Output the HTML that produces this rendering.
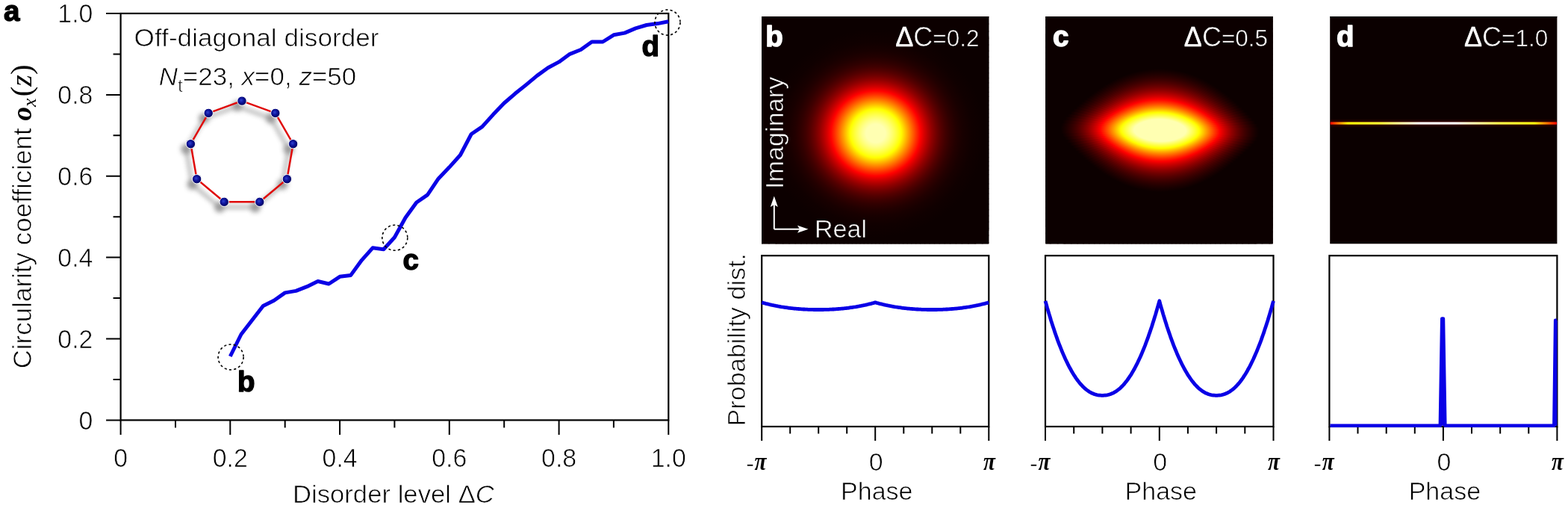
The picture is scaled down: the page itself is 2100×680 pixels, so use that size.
<!DOCTYPE html>
<html><head><meta charset="utf-8"><title>Circularity coefficient vs disorder</title>
<style>
html,body{margin:0;padding:0;background:#fff;overflow:hidden}
svg{display:block}
.t{font-family:'Liberation Sans',Arial,sans-serif;font-size:34px;fill:#000;stroke:#fff;stroke-width:0.7px}
.tk{font-size:35px}
.tw{font-family:'Liberation Sans',Arial,sans-serif;font-size:33px;fill:#fff;stroke:#0b0000;stroke-width:0.6px}
.bl{font-family:'Liberation Sans',Arial,sans-serif;font-size:38.5px;font-weight:bold;fill:#000;stroke:#000;stroke-width:1.4px;stroke-linejoin:round}
.bw{font-family:'Liberation Sans',Arial,sans-serif;font-size:38.5px;font-weight:bold;fill:#fff;stroke:#fff;stroke-width:1.4px;stroke-linejoin:round}
.pi{font-family:'Liberation Serif',serif;font-style:italic;font-weight:bold;font-size:34px;fill:#000}
</style></head><body>
<svg width="2100" height="680" viewBox="0 0 2100 680">
<defs>
<filter id="shd" x="-30%" y="-30%" width="160%" height="160%"><feGaussianBlur stdDeviation="3.2"/></filter>
<radialGradient id="ball" cx="0.45" cy="0.45" r="0.6" fx="0.42" fy="0.42"><stop offset="0" stop-color="#3042d0"/><stop offset="0.45" stop-color="#0c1298"/><stop offset="1" stop-color="#000050"/></radialGradient>
<clipPath id="clipB"><rect x="1020.0" y="22.0" width="304.2" height="304.3"/></clipPath>
<radialGradient id="Bq0" gradientUnits="userSpaceOnUse" cx="1172.8" cy="178.5" r="200.0"><stop offset="0.0645" stop-color="#ffffb2"/><stop offset="0.0924" stop-color="#ffff8f"/><stop offset="0.1146" stop-color="#ffff6c"/><stop offset="0.1342" stop-color="#ffff49"/><stop offset="0.1522" stop-color="#ffff26"/><stop offset="0.1707" stop-color="#ffff00"/><stop offset="0.1924" stop-color="#ffd300"/><stop offset="0.2184" stop-color="#ff9d00"/><stop offset="0.2448" stop-color="#ff6800"/><stop offset="0.2723" stop-color="#ff3200"/><stop offset="0.3001" stop-color="#ff0000"/><stop offset="0.3268" stop-color="#d30000"/><stop offset="0.3498" stop-color="#b20000"/><stop offset="0.3760" stop-color="#900000"/><stop offset="0.4074" stop-color="#6f0000"/><stop offset="0.4387" stop-color="#540000"/><stop offset="0.4686" stop-color="#400000"/><stop offset="0.5001" stop-color="#300000"/><stop offset="0.5387" stop-color="#220000"/><stop offset="0.5814" stop-color="#180000"/><stop offset="0.6453" stop-color="#100000"/><stop offset="0.7315" stop-color="#0c0000"/></radialGradient>
<radialGradient id="Bq1" gradientUnits="userSpaceOnUse" cx="1172.8" cy="178.5" r="200.0"><stop offset="0.0645" stop-color="#ffffb2"/><stop offset="0.0924" stop-color="#ffff8f"/><stop offset="0.1146" stop-color="#ffff6c"/><stop offset="0.1342" stop-color="#ffff49"/><stop offset="0.1522" stop-color="#ffff26"/><stop offset="0.1707" stop-color="#ffff00"/><stop offset="0.1924" stop-color="#ffd300"/><stop offset="0.2184" stop-color="#ff9d00"/><stop offset="0.2447" stop-color="#ff6800"/><stop offset="0.2723" stop-color="#ff3200"/><stop offset="0.3001" stop-color="#ff0000"/><stop offset="0.3268" stop-color="#d30000"/><stop offset="0.3498" stop-color="#b20000"/><stop offset="0.3760" stop-color="#900000"/><stop offset="0.4074" stop-color="#6f0000"/><stop offset="0.4386" stop-color="#540000"/><stop offset="0.4686" stop-color="#400000"/><stop offset="0.5001" stop-color="#300000"/><stop offset="0.5387" stop-color="#220000"/><stop offset="0.5814" stop-color="#180000"/><stop offset="0.6453" stop-color="#100000"/><stop offset="0.7314" stop-color="#0c0000"/></radialGradient>
<radialGradient id="Bq2" gradientUnits="userSpaceOnUse" cx="1172.8" cy="178.5" r="200.0"><stop offset="0.0645" stop-color="#ffffb2"/><stop offset="0.0923" stop-color="#ffff8f"/><stop offset="0.1146" stop-color="#ffff6c"/><stop offset="0.1342" stop-color="#ffff49"/><stop offset="0.1522" stop-color="#ffff26"/><stop offset="0.1706" stop-color="#ffff00"/><stop offset="0.1924" stop-color="#ffd300"/><stop offset="0.2184" stop-color="#ff9d00"/><stop offset="0.2447" stop-color="#ff6800"/><stop offset="0.2722" stop-color="#ff3200"/><stop offset="0.3001" stop-color="#ff0000"/><stop offset="0.3267" stop-color="#d30000"/><stop offset="0.3497" stop-color="#b20000"/><stop offset="0.3759" stop-color="#900000"/><stop offset="0.4073" stop-color="#6f0000"/><stop offset="0.4386" stop-color="#540000"/><stop offset="0.4685" stop-color="#400000"/><stop offset="0.5000" stop-color="#300000"/><stop offset="0.5386" stop-color="#220000"/><stop offset="0.5813" stop-color="#180000"/><stop offset="0.6451" stop-color="#100000"/><stop offset="0.7313" stop-color="#0c0000"/></radialGradient>
<radialGradient id="Bq3" gradientUnits="userSpaceOnUse" cx="1172.8" cy="178.5" r="200.0"><stop offset="0.0644" stop-color="#ffffb2"/><stop offset="0.0923" stop-color="#ffff8f"/><stop offset="0.1146" stop-color="#ffff6c"/><stop offset="0.1341" stop-color="#ffff49"/><stop offset="0.1522" stop-color="#ffff26"/><stop offset="0.1706" stop-color="#ffff00"/><stop offset="0.1923" stop-color="#ffd300"/><stop offset="0.2183" stop-color="#ff9d00"/><stop offset="0.2446" stop-color="#ff6800"/><stop offset="0.2721" stop-color="#ff3200"/><stop offset="0.3000" stop-color="#ff0000"/><stop offset="0.3266" stop-color="#d30000"/><stop offset="0.3496" stop-color="#b20000"/><stop offset="0.3758" stop-color="#900000"/><stop offset="0.4071" stop-color="#6f0000"/><stop offset="0.4384" stop-color="#540000"/><stop offset="0.4684" stop-color="#400000"/><stop offset="0.4998" stop-color="#300000"/><stop offset="0.5384" stop-color="#220000"/><stop offset="0.5811" stop-color="#180000"/><stop offset="0.6449" stop-color="#100000"/><stop offset="0.7310" stop-color="#0c0000"/></radialGradient>
<radialGradient id="Bq4" gradientUnits="userSpaceOnUse" cx="1172.8" cy="178.5" r="200.0"><stop offset="0.0644" stop-color="#ffffb2"/><stop offset="0.0923" stop-color="#ffff8f"/><stop offset="0.1145" stop-color="#ffff6c"/><stop offset="0.1341" stop-color="#ffff49"/><stop offset="0.1521" stop-color="#ffff26"/><stop offset="0.1705" stop-color="#ffff00"/><stop offset="0.1922" stop-color="#ffd300"/><stop offset="0.2182" stop-color="#ff9d00"/><stop offset="0.2445" stop-color="#ff6800"/><stop offset="0.2720" stop-color="#ff3200"/><stop offset="0.2998" stop-color="#ff0000"/><stop offset="0.3265" stop-color="#d30000"/><stop offset="0.3495" stop-color="#b20000"/><stop offset="0.3757" stop-color="#900000"/><stop offset="0.4070" stop-color="#6f0000"/><stop offset="0.4382" stop-color="#540000"/><stop offset="0.4681" stop-color="#400000"/><stop offset="0.4996" stop-color="#300000"/><stop offset="0.5382" stop-color="#220000"/><stop offset="0.5808" stop-color="#180000"/><stop offset="0.6446" stop-color="#100000"/><stop offset="0.7307" stop-color="#0c0000"/></radialGradient>
<radialGradient id="Bq5" gradientUnits="userSpaceOnUse" cx="1172.8" cy="178.5" r="200.0"><stop offset="0.0644" stop-color="#ffffb2"/><stop offset="0.0922" stop-color="#ffff8f"/><stop offset="0.1144" stop-color="#ffff6c"/><stop offset="0.1340" stop-color="#ffff49"/><stop offset="0.1520" stop-color="#ffff26"/><stop offset="0.1704" stop-color="#ffff00"/><stop offset="0.1921" stop-color="#ffd300"/><stop offset="0.2181" stop-color="#ff9d00"/><stop offset="0.2444" stop-color="#ff6800"/><stop offset="0.2719" stop-color="#ff3200"/><stop offset="0.2997" stop-color="#ff0000"/><stop offset="0.3263" stop-color="#d30000"/><stop offset="0.3492" stop-color="#b20000"/><stop offset="0.3754" stop-color="#900000"/><stop offset="0.4067" stop-color="#6f0000"/><stop offset="0.4380" stop-color="#540000"/><stop offset="0.4679" stop-color="#400000"/><stop offset="0.4993" stop-color="#300000"/><stop offset="0.5378" stop-color="#220000"/><stop offset="0.5805" stop-color="#180000"/><stop offset="0.6442" stop-color="#100000"/><stop offset="0.7302" stop-color="#0c0000"/></radialGradient>
<radialGradient id="Bq6" gradientUnits="userSpaceOnUse" cx="1172.8" cy="178.5" r="200.0"><stop offset="0.0643" stop-color="#ffffb2"/><stop offset="0.0921" stop-color="#ffff8f"/><stop offset="0.1144" stop-color="#ffff6c"/><stop offset="0.1339" stop-color="#ffff49"/><stop offset="0.1519" stop-color="#ffff26"/><stop offset="0.1703" stop-color="#ffff00"/><stop offset="0.1920" stop-color="#ffd300"/><stop offset="0.2179" stop-color="#ff9d00"/><stop offset="0.2442" stop-color="#ff6800"/><stop offset="0.2717" stop-color="#ff3200"/><stop offset="0.2995" stop-color="#ff0000"/><stop offset="0.3261" stop-color="#d30000"/><stop offset="0.3490" stop-color="#b20000"/><stop offset="0.3752" stop-color="#900000"/><stop offset="0.4064" stop-color="#6f0000"/><stop offset="0.4376" stop-color="#540000"/><stop offset="0.4675" stop-color="#400000"/><stop offset="0.4989" stop-color="#300000"/><stop offset="0.5375" stop-color="#220000"/><stop offset="0.5800" stop-color="#180000"/><stop offset="0.6437" stop-color="#100000"/><stop offset="0.7297" stop-color="#0c0000"/></radialGradient>
<radialGradient id="Bq7" gradientUnits="userSpaceOnUse" cx="1172.8" cy="178.5" r="200.0"><stop offset="0.0643" stop-color="#ffffb2"/><stop offset="0.0921" stop-color="#ffff8f"/><stop offset="0.1143" stop-color="#ffff6c"/><stop offset="0.1338" stop-color="#ffff49"/><stop offset="0.1518" stop-color="#ffff26"/><stop offset="0.1702" stop-color="#ffff00"/><stop offset="0.1918" stop-color="#ffd300"/><stop offset="0.2177" stop-color="#ff9d00"/><stop offset="0.2440" stop-color="#ff6800"/><stop offset="0.2715" stop-color="#ff3200"/><stop offset="0.2992" stop-color="#ff0000"/><stop offset="0.3258" stop-color="#d30000"/><stop offset="0.3487" stop-color="#b20000"/><stop offset="0.3749" stop-color="#900000"/><stop offset="0.4061" stop-color="#6f0000"/><stop offset="0.4373" stop-color="#540000"/><stop offset="0.4671" stop-color="#400000"/><stop offset="0.4985" stop-color="#300000"/><stop offset="0.5370" stop-color="#220000"/><stop offset="0.5795" stop-color="#180000"/><stop offset="0.6432" stop-color="#100000"/><stop offset="0.7290" stop-color="#0c0000"/></radialGradient>
<radialGradient id="Bq8" gradientUnits="userSpaceOnUse" cx="1172.8" cy="178.5" r="200.0"><stop offset="0.0642" stop-color="#ffffb2"/><stop offset="0.0920" stop-color="#ffff8f"/><stop offset="0.1142" stop-color="#ffff6c"/><stop offset="0.1337" stop-color="#ffff49"/><stop offset="0.1516" stop-color="#ffff26"/><stop offset="0.1700" stop-color="#ffff00"/><stop offset="0.1917" stop-color="#ffd300"/><stop offset="0.2175" stop-color="#ff9d00"/><stop offset="0.2438" stop-color="#ff6800"/><stop offset="0.2712" stop-color="#ff3200"/><stop offset="0.2989" stop-color="#ff0000"/><stop offset="0.3255" stop-color="#d30000"/><stop offset="0.3484" stop-color="#b20000"/><stop offset="0.3745" stop-color="#900000"/><stop offset="0.4057" stop-color="#6f0000"/><stop offset="0.4369" stop-color="#540000"/><stop offset="0.4667" stop-color="#400000"/><stop offset="0.4980" stop-color="#300000"/><stop offset="0.5365" stop-color="#220000"/><stop offset="0.5790" stop-color="#180000"/><stop offset="0.6425" stop-color="#100000"/><stop offset="0.7283" stop-color="#0c0000"/></radialGradient>
<radialGradient id="Bq9" gradientUnits="userSpaceOnUse" cx="1172.8" cy="178.5" r="200.0"><stop offset="0.0642" stop-color="#ffffb2"/><stop offset="0.0919" stop-color="#ffff8f"/><stop offset="0.1140" stop-color="#ffff6c"/><stop offset="0.1335" stop-color="#ffff49"/><stop offset="0.1515" stop-color="#ffff26"/><stop offset="0.1698" stop-color="#ffff00"/><stop offset="0.1915" stop-color="#ffd300"/><stop offset="0.2173" stop-color="#ff9d00"/><stop offset="0.2435" stop-color="#ff6800"/><stop offset="0.2709" stop-color="#ff3200"/><stop offset="0.2986" stop-color="#ff0000"/><stop offset="0.3252" stop-color="#d30000"/><stop offset="0.3480" stop-color="#b20000"/><stop offset="0.3741" stop-color="#900000"/><stop offset="0.4053" stop-color="#6f0000"/><stop offset="0.4364" stop-color="#540000"/><stop offset="0.4662" stop-color="#400000"/><stop offset="0.4975" stop-color="#300000"/><stop offset="0.5359" stop-color="#220000"/><stop offset="0.5784" stop-color="#180000"/><stop offset="0.6418" stop-color="#100000"/><stop offset="0.7275" stop-color="#0c0000"/></radialGradient>
<radialGradient id="Bq10" gradientUnits="userSpaceOnUse" cx="1172.8" cy="178.5" r="200.0"><stop offset="0.0641" stop-color="#ffffb2"/><stop offset="0.0918" stop-color="#ffff8f"/><stop offset="0.1139" stop-color="#ffff6c"/><stop offset="0.1334" stop-color="#ffff49"/><stop offset="0.1513" stop-color="#ffff26"/><stop offset="0.1696" stop-color="#ffff00"/><stop offset="0.1913" stop-color="#ffd300"/><stop offset="0.2171" stop-color="#ff9d00"/><stop offset="0.2432" stop-color="#ff6800"/><stop offset="0.2706" stop-color="#ff3200"/><stop offset="0.2983" stop-color="#ff0000"/><stop offset="0.3248" stop-color="#d30000"/><stop offset="0.3476" stop-color="#b20000"/><stop offset="0.3737" stop-color="#900000"/><stop offset="0.4048" stop-color="#6f0000"/><stop offset="0.4359" stop-color="#540000"/><stop offset="0.4657" stop-color="#400000"/><stop offset="0.4969" stop-color="#300000"/><stop offset="0.5353" stop-color="#220000"/><stop offset="0.5777" stop-color="#180000"/><stop offset="0.6411" stop-color="#100000"/><stop offset="0.7266" stop-color="#0c0000"/></radialGradient>
<radialGradient id="Bq11" gradientUnits="userSpaceOnUse" cx="1172.8" cy="178.5" r="200.0"><stop offset="0.0640" stop-color="#ffffb2"/><stop offset="0.0917" stop-color="#ffff8f"/><stop offset="0.1138" stop-color="#ffff6c"/><stop offset="0.1332" stop-color="#ffff49"/><stop offset="0.1511" stop-color="#ffff26"/><stop offset="0.1694" stop-color="#ffff00"/><stop offset="0.1910" stop-color="#ffd300"/><stop offset="0.2168" stop-color="#ff9d00"/><stop offset="0.2429" stop-color="#ff6800"/><stop offset="0.2703" stop-color="#ff3200"/><stop offset="0.2979" stop-color="#ff0000"/><stop offset="0.3244" stop-color="#d30000"/><stop offset="0.3472" stop-color="#b20000"/><stop offset="0.3732" stop-color="#900000"/><stop offset="0.4043" stop-color="#6f0000"/><stop offset="0.4354" stop-color="#540000"/><stop offset="0.4651" stop-color="#400000"/><stop offset="0.4963" stop-color="#300000"/><stop offset="0.5346" stop-color="#220000"/><stop offset="0.5769" stop-color="#180000"/><stop offset="0.6403" stop-color="#100000"/><stop offset="0.7257" stop-color="#0c0000"/></radialGradient>
<radialGradient id="Bq12" gradientUnits="userSpaceOnUse" cx="1172.8" cy="178.5" r="200.0"><stop offset="0.0639" stop-color="#ffffb2"/><stop offset="0.0916" stop-color="#ffff8f"/><stop offset="0.1136" stop-color="#ffff6c"/><stop offset="0.1330" stop-color="#ffff49"/><stop offset="0.1509" stop-color="#ffff26"/><stop offset="0.1692" stop-color="#ffff00"/><stop offset="0.1908" stop-color="#ffd300"/><stop offset="0.2165" stop-color="#ff9d00"/><stop offset="0.2426" stop-color="#ff6800"/><stop offset="0.2699" stop-color="#ff3200"/><stop offset="0.2975" stop-color="#ff0000"/><stop offset="0.3240" stop-color="#d30000"/><stop offset="0.3467" stop-color="#b20000"/><stop offset="0.3727" stop-color="#900000"/><stop offset="0.4038" stop-color="#6f0000"/><stop offset="0.4348" stop-color="#540000"/><stop offset="0.4645" stop-color="#400000"/><stop offset="0.4956" stop-color="#300000"/><stop offset="0.5339" stop-color="#220000"/><stop offset="0.5762" stop-color="#180000"/><stop offset="0.6394" stop-color="#100000"/><stop offset="0.7247" stop-color="#0c0000"/></radialGradient>
<radialGradient id="Bq13" gradientUnits="userSpaceOnUse" cx="1172.8" cy="178.5" r="200.0"><stop offset="0.0638" stop-color="#ffffb2"/><stop offset="0.0914" stop-color="#ffff8f"/><stop offset="0.1135" stop-color="#ffff6c"/><stop offset="0.1329" stop-color="#ffff49"/><stop offset="0.1507" stop-color="#ffff26"/><stop offset="0.1690" stop-color="#ffff00"/><stop offset="0.1905" stop-color="#ffd300"/><stop offset="0.2162" stop-color="#ff9d00"/><stop offset="0.2423" stop-color="#ff6800"/><stop offset="0.2696" stop-color="#ff3200"/><stop offset="0.2971" stop-color="#ff0000"/><stop offset="0.3235" stop-color="#d30000"/><stop offset="0.3463" stop-color="#b20000"/><stop offset="0.3722" stop-color="#900000"/><stop offset="0.4032" stop-color="#6f0000"/><stop offset="0.4342" stop-color="#540000"/><stop offset="0.4638" stop-color="#400000"/><stop offset="0.4949" stop-color="#300000"/><stop offset="0.5331" stop-color="#220000"/><stop offset="0.5753" stop-color="#180000"/><stop offset="0.6385" stop-color="#100000"/><stop offset="0.7236" stop-color="#0c0000"/></radialGradient>
<radialGradient id="Bq14" gradientUnits="userSpaceOnUse" cx="1172.8" cy="178.5" r="200.0"><stop offset="0.0637" stop-color="#ffffb2"/><stop offset="0.0913" stop-color="#ffff8f"/><stop offset="0.1133" stop-color="#ffff6c"/><stop offset="0.1327" stop-color="#ffff49"/><stop offset="0.1505" stop-color="#ffff26"/><stop offset="0.1687" stop-color="#ffff00"/><stop offset="0.1902" stop-color="#ffd300"/><stop offset="0.2159" stop-color="#ff9d00"/><stop offset="0.2419" stop-color="#ff6800"/><stop offset="0.2692" stop-color="#ff3200"/><stop offset="0.2967" stop-color="#ff0000"/><stop offset="0.3230" stop-color="#d30000"/><stop offset="0.3457" stop-color="#b20000"/><stop offset="0.3717" stop-color="#900000"/><stop offset="0.4026" stop-color="#6f0000"/><stop offset="0.4335" stop-color="#540000"/><stop offset="0.4631" stop-color="#400000"/><stop offset="0.4942" stop-color="#300000"/><stop offset="0.5323" stop-color="#220000"/><stop offset="0.5745" stop-color="#180000"/><stop offset="0.6375" stop-color="#100000"/><stop offset="0.7225" stop-color="#0c0000"/></radialGradient>
<radialGradient id="Bq15" gradientUnits="userSpaceOnUse" cx="1172.8" cy="178.5" r="200.0"><stop offset="0.0636" stop-color="#ffffb2"/><stop offset="0.0912" stop-color="#ffff8f"/><stop offset="0.1131" stop-color="#ffff6c"/><stop offset="0.1325" stop-color="#ffff49"/><stop offset="0.1503" stop-color="#ffff26"/><stop offset="0.1685" stop-color="#ffff00"/><stop offset="0.1899" stop-color="#ffd300"/><stop offset="0.2156" stop-color="#ff9d00"/><stop offset="0.2416" stop-color="#ff6800"/><stop offset="0.2687" stop-color="#ff3200"/><stop offset="0.2962" stop-color="#ff0000"/><stop offset="0.3225" stop-color="#d30000"/><stop offset="0.3452" stop-color="#b20000"/><stop offset="0.3711" stop-color="#900000"/><stop offset="0.4020" stop-color="#6f0000"/><stop offset="0.4329" stop-color="#540000"/><stop offset="0.4624" stop-color="#400000"/><stop offset="0.4934" stop-color="#300000"/><stop offset="0.5315" stop-color="#220000"/><stop offset="0.5736" stop-color="#180000"/><stop offset="0.6365" stop-color="#100000"/><stop offset="0.7213" stop-color="#0c0000"/></radialGradient>
<radialGradient id="Bq16" gradientUnits="userSpaceOnUse" cx="1172.8" cy="178.5" r="200.0"><stop offset="0.0635" stop-color="#ffffb2"/><stop offset="0.0910" stop-color="#ffff8f"/><stop offset="0.1130" stop-color="#ffff6c"/><stop offset="0.1323" stop-color="#ffff49"/><stop offset="0.1500" stop-color="#ffff26"/><stop offset="0.1682" stop-color="#ffff00"/><stop offset="0.1896" stop-color="#ffd300"/><stop offset="0.2152" stop-color="#ff9d00"/><stop offset="0.2412" stop-color="#ff6800"/><stop offset="0.2683" stop-color="#ff3200"/><stop offset="0.2957" stop-color="#ff0000"/><stop offset="0.3220" stop-color="#d30000"/><stop offset="0.3447" stop-color="#b20000"/><stop offset="0.3705" stop-color="#900000"/><stop offset="0.4014" stop-color="#6f0000"/><stop offset="0.4322" stop-color="#540000"/><stop offset="0.4617" stop-color="#400000"/><stop offset="0.4926" stop-color="#300000"/><stop offset="0.5306" stop-color="#220000"/><stop offset="0.5726" stop-color="#180000"/><stop offset="0.6354" stop-color="#100000"/><stop offset="0.7201" stop-color="#0c0000"/></radialGradient>
<radialGradient id="Bq17" gradientUnits="userSpaceOnUse" cx="1172.8" cy="178.5" r="200.0"><stop offset="0.0634" stop-color="#ffffb2"/><stop offset="0.0909" stop-color="#ffff8f"/><stop offset="0.1128" stop-color="#ffff6c"/><stop offset="0.1320" stop-color="#ffff49"/><stop offset="0.1498" stop-color="#ffff26"/><stop offset="0.1679" stop-color="#ffff00"/><stop offset="0.1893" stop-color="#ffd300"/><stop offset="0.2149" stop-color="#ff9d00"/><stop offset="0.2408" stop-color="#ff6800"/><stop offset="0.2679" stop-color="#ff3200"/><stop offset="0.2953" stop-color="#ff0000"/><stop offset="0.3215" stop-color="#d30000"/><stop offset="0.3441" stop-color="#b20000"/><stop offset="0.3699" stop-color="#900000"/><stop offset="0.4007" stop-color="#6f0000"/><stop offset="0.4314" stop-color="#540000"/><stop offset="0.4609" stop-color="#400000"/><stop offset="0.4918" stop-color="#300000"/><stop offset="0.5298" stop-color="#220000"/><stop offset="0.5717" stop-color="#180000"/><stop offset="0.6344" stop-color="#100000"/><stop offset="0.7189" stop-color="#0c0000"/></radialGradient>
<radialGradient id="Bq18" gradientUnits="userSpaceOnUse" cx="1172.8" cy="178.5" r="200.0"><stop offset="0.0633" stop-color="#ffffb2"/><stop offset="0.0907" stop-color="#ffff8f"/><stop offset="0.1126" stop-color="#ffff6c"/><stop offset="0.1318" stop-color="#ffff49"/><stop offset="0.1495" stop-color="#ffff26"/><stop offset="0.1677" stop-color="#ffff00"/><stop offset="0.1890" stop-color="#ffd300"/><stop offset="0.2145" stop-color="#ff9d00"/><stop offset="0.2404" stop-color="#ff6800"/><stop offset="0.2674" stop-color="#ff3200"/><stop offset="0.2948" stop-color="#ff0000"/><stop offset="0.3210" stop-color="#d30000"/><stop offset="0.3435" stop-color="#b20000"/><stop offset="0.3693" stop-color="#900000"/><stop offset="0.4000" stop-color="#6f0000"/><stop offset="0.4307" stop-color="#540000"/><stop offset="0.4601" stop-color="#400000"/><stop offset="0.4910" stop-color="#300000"/><stop offset="0.5289" stop-color="#220000"/><stop offset="0.5707" stop-color="#180000"/><stop offset="0.6333" stop-color="#100000"/><stop offset="0.7177" stop-color="#0c0000"/></radialGradient>
<radialGradient id="Bq19" gradientUnits="userSpaceOnUse" cx="1172.8" cy="178.5" r="200.0"><stop offset="0.0632" stop-color="#ffffb2"/><stop offset="0.0906" stop-color="#ffff8f"/><stop offset="0.1124" stop-color="#ffff6c"/><stop offset="0.1316" stop-color="#ffff49"/><stop offset="0.1493" stop-color="#ffff26"/><stop offset="0.1674" stop-color="#ffff00"/><stop offset="0.1887" stop-color="#ffd300"/><stop offset="0.2141" stop-color="#ff9d00"/><stop offset="0.2400" stop-color="#ff6800"/><stop offset="0.2670" stop-color="#ff3200"/><stop offset="0.2943" stop-color="#ff0000"/><stop offset="0.3204" stop-color="#d30000"/><stop offset="0.3429" stop-color="#b20000"/><stop offset="0.3686" stop-color="#900000"/><stop offset="0.3993" stop-color="#6f0000"/><stop offset="0.4300" stop-color="#540000"/><stop offset="0.4593" stop-color="#400000"/><stop offset="0.4901" stop-color="#300000"/><stop offset="0.5279" stop-color="#220000"/><stop offset="0.5697" stop-color="#180000"/><stop offset="0.6322" stop-color="#100000"/><stop offset="0.7164" stop-color="#0c0000"/></radialGradient>
<radialGradient id="Bq20" gradientUnits="userSpaceOnUse" cx="1172.8" cy="178.5" r="200.0"><stop offset="0.0631" stop-color="#ffffb2"/><stop offset="0.0904" stop-color="#ffff8f"/><stop offset="0.1122" stop-color="#ffff6c"/><stop offset="0.1314" stop-color="#ffff49"/><stop offset="0.1490" stop-color="#ffff26"/><stop offset="0.1671" stop-color="#ffff00"/><stop offset="0.1884" stop-color="#ffd300"/><stop offset="0.2138" stop-color="#ff9d00"/><stop offset="0.2396" stop-color="#ff6800"/><stop offset="0.2665" stop-color="#ff3200"/><stop offset="0.2938" stop-color="#ff0000"/><stop offset="0.3199" stop-color="#d30000"/><stop offset="0.3423" stop-color="#b20000"/><stop offset="0.3680" stop-color="#900000"/><stop offset="0.3986" stop-color="#6f0000"/><stop offset="0.4292" stop-color="#540000"/><stop offset="0.4585" stop-color="#400000"/><stop offset="0.4893" stop-color="#300000"/><stop offset="0.5270" stop-color="#220000"/><stop offset="0.5687" stop-color="#180000"/><stop offset="0.6311" stop-color="#100000"/><stop offset="0.7152" stop-color="#0c0000"/></radialGradient>
<radialGradient id="Bq21" gradientUnits="userSpaceOnUse" cx="1172.8" cy="178.5" r="200.0"><stop offset="0.0630" stop-color="#ffffb2"/><stop offset="0.0902" stop-color="#ffff8f"/><stop offset="0.1120" stop-color="#ffff6c"/><stop offset="0.1311" stop-color="#ffff49"/><stop offset="0.1488" stop-color="#ffff26"/><stop offset="0.1668" stop-color="#ffff00"/><stop offset="0.1880" stop-color="#ffd300"/><stop offset="0.2134" stop-color="#ff9d00"/><stop offset="0.2391" stop-color="#ff6800"/><stop offset="0.2660" stop-color="#ff3200"/><stop offset="0.2932" stop-color="#ff0000"/><stop offset="0.3193" stop-color="#d30000"/><stop offset="0.3417" stop-color="#b20000"/><stop offset="0.3673" stop-color="#900000"/><stop offset="0.3979" stop-color="#6f0000"/><stop offset="0.4285" stop-color="#540000"/><stop offset="0.4577" stop-color="#400000"/><stop offset="0.4884" stop-color="#300000"/><stop offset="0.5261" stop-color="#220000"/><stop offset="0.5677" stop-color="#180000"/><stop offset="0.6300" stop-color="#100000"/><stop offset="0.7139" stop-color="#0c0000"/></radialGradient>
<radialGradient id="Bq22" gradientUnits="userSpaceOnUse" cx="1172.8" cy="178.5" r="200.0"><stop offset="0.0629" stop-color="#ffffb2"/><stop offset="0.0901" stop-color="#ffff8f"/><stop offset="0.1118" stop-color="#ffff6c"/><stop offset="0.1309" stop-color="#ffff49"/><stop offset="0.1485" stop-color="#ffff26"/><stop offset="0.1665" stop-color="#ffff00"/><stop offset="0.1877" stop-color="#ffd300"/><stop offset="0.2130" stop-color="#ff9d00"/><stop offset="0.2387" stop-color="#ff6800"/><stop offset="0.2656" stop-color="#ff3200"/><stop offset="0.2927" stop-color="#ff0000"/><stop offset="0.3187" stop-color="#d30000"/><stop offset="0.3411" stop-color="#b20000"/><stop offset="0.3667" stop-color="#900000"/><stop offset="0.3972" stop-color="#6f0000"/><stop offset="0.4277" stop-color="#540000"/><stop offset="0.4569" stop-color="#400000"/><stop offset="0.4876" stop-color="#300000"/><stop offset="0.5252" stop-color="#220000"/><stop offset="0.5668" stop-color="#180000"/><stop offset="0.6289" stop-color="#100000"/><stop offset="0.7127" stop-color="#0c0000"/></radialGradient>
<radialGradient id="Bq23" gradientUnits="userSpaceOnUse" cx="1172.8" cy="178.5" r="200.0"><stop offset="0.0628" stop-color="#ffffb2"/><stop offset="0.0899" stop-color="#ffff8f"/><stop offset="0.1116" stop-color="#ffff6c"/><stop offset="0.1307" stop-color="#ffff49"/><stop offset="0.1482" stop-color="#ffff26"/><stop offset="0.1662" stop-color="#ffff00"/><stop offset="0.1874" stop-color="#ffd300"/><stop offset="0.2127" stop-color="#ff9d00"/><stop offset="0.2383" stop-color="#ff6800"/><stop offset="0.2651" stop-color="#ff3200"/><stop offset="0.2922" stop-color="#ff0000"/><stop offset="0.3182" stop-color="#d30000"/><stop offset="0.3405" stop-color="#b20000"/><stop offset="0.3661" stop-color="#900000"/><stop offset="0.3966" stop-color="#6f0000"/><stop offset="0.4270" stop-color="#540000"/><stop offset="0.4561" stop-color="#400000"/><stop offset="0.4867" stop-color="#300000"/><stop offset="0.5243" stop-color="#220000"/><stop offset="0.5658" stop-color="#180000"/><stop offset="0.6278" stop-color="#100000"/><stop offset="0.7115" stop-color="#0c0000"/></radialGradient>
<radialGradient id="Bq24" gradientUnits="userSpaceOnUse" cx="1172.8" cy="178.5" r="200.0"><stop offset="0.0627" stop-color="#ffffb2"/><stop offset="0.0898" stop-color="#ffff8f"/><stop offset="0.1114" stop-color="#ffff6c"/><stop offset="0.1304" stop-color="#ffff49"/><stop offset="0.1480" stop-color="#ffff26"/><stop offset="0.1659" stop-color="#ffff00"/><stop offset="0.1870" stop-color="#ffd300"/><stop offset="0.2123" stop-color="#ff9d00"/><stop offset="0.2379" stop-color="#ff6800"/><stop offset="0.2647" stop-color="#ff3200"/><stop offset="0.2917" stop-color="#ff0000"/><stop offset="0.3176" stop-color="#d30000"/><stop offset="0.3400" stop-color="#b20000"/><stop offset="0.3654" stop-color="#900000"/><stop offset="0.3959" stop-color="#6f0000"/><stop offset="0.4263" stop-color="#540000"/><stop offset="0.4553" stop-color="#400000"/><stop offset="0.4859" stop-color="#300000"/><stop offset="0.5234" stop-color="#220000"/><stop offset="0.5648" stop-color="#180000"/><stop offset="0.6267" stop-color="#100000"/><stop offset="0.7103" stop-color="#0c0000"/></radialGradient>
<radialGradient id="Bq25" gradientUnits="userSpaceOnUse" cx="1172.8" cy="178.5" r="200.0"><stop offset="0.0626" stop-color="#ffffb2"/><stop offset="0.0896" stop-color="#ffff8f"/><stop offset="0.1112" stop-color="#ffff6c"/><stop offset="0.1302" stop-color="#ffff49"/><stop offset="0.1477" stop-color="#ffff26"/><stop offset="0.1656" stop-color="#ffff00"/><stop offset="0.1867" stop-color="#ffd300"/><stop offset="0.2119" stop-color="#ff9d00"/><stop offset="0.2375" stop-color="#ff6800"/><stop offset="0.2642" stop-color="#ff3200"/><stop offset="0.2912" stop-color="#ff0000"/><stop offset="0.3171" stop-color="#d30000"/><stop offset="0.3394" stop-color="#b20000"/><stop offset="0.3648" stop-color="#900000"/><stop offset="0.3952" stop-color="#6f0000"/><stop offset="0.4255" stop-color="#540000"/><stop offset="0.4546" stop-color="#400000"/><stop offset="0.4850" stop-color="#300000"/><stop offset="0.5225" stop-color="#220000"/><stop offset="0.5638" stop-color="#180000"/><stop offset="0.6257" stop-color="#100000"/><stop offset="0.7091" stop-color="#0c0000"/></radialGradient>
<radialGradient id="Bq26" gradientUnits="userSpaceOnUse" cx="1172.8" cy="178.5" r="200.0"><stop offset="0.0625" stop-color="#ffffb2"/><stop offset="0.0895" stop-color="#ffff8f"/><stop offset="0.1110" stop-color="#ffff6c"/><stop offset="0.1300" stop-color="#ffff49"/><stop offset="0.1475" stop-color="#ffff26"/><stop offset="0.1653" stop-color="#ffff00"/><stop offset="0.1864" stop-color="#ffd300"/><stop offset="0.2116" stop-color="#ff9d00"/><stop offset="0.2371" stop-color="#ff6800"/><stop offset="0.2638" stop-color="#ff3200"/><stop offset="0.2907" stop-color="#ff0000"/><stop offset="0.3166" stop-color="#d30000"/><stop offset="0.3388" stop-color="#b20000"/><stop offset="0.3642" stop-color="#900000"/><stop offset="0.3945" stop-color="#6f0000"/><stop offset="0.4248" stop-color="#540000"/><stop offset="0.4538" stop-color="#400000"/><stop offset="0.4842" stop-color="#300000"/><stop offset="0.5216" stop-color="#220000"/><stop offset="0.5629" stop-color="#180000"/><stop offset="0.6246" stop-color="#100000"/><stop offset="0.7079" stop-color="#0c0000"/></radialGradient>
<radialGradient id="Bq27" gradientUnits="userSpaceOnUse" cx="1172.8" cy="178.5" r="200.0"><stop offset="0.0624" stop-color="#ffffb2"/><stop offset="0.0893" stop-color="#ffff8f"/><stop offset="0.1109" stop-color="#ffff6c"/><stop offset="0.1298" stop-color="#ffff49"/><stop offset="0.1472" stop-color="#ffff26"/><stop offset="0.1651" stop-color="#ffff00"/><stop offset="0.1861" stop-color="#ffd300"/><stop offset="0.2112" stop-color="#ff9d00"/><stop offset="0.2367" stop-color="#ff6800"/><stop offset="0.2633" stop-color="#ff3200"/><stop offset="0.2902" stop-color="#ff0000"/><stop offset="0.3160" stop-color="#d30000"/><stop offset="0.3383" stop-color="#b20000"/><stop offset="0.3636" stop-color="#900000"/><stop offset="0.3939" stop-color="#6f0000"/><stop offset="0.4241" stop-color="#540000"/><stop offset="0.4531" stop-color="#400000"/><stop offset="0.4834" stop-color="#300000"/><stop offset="0.5208" stop-color="#220000"/><stop offset="0.5620" stop-color="#180000"/><stop offset="0.6236" stop-color="#100000"/><stop offset="0.7068" stop-color="#0c0000"/></radialGradient>
<radialGradient id="Bq28" gradientUnits="userSpaceOnUse" cx="1172.8" cy="178.5" r="200.0"><stop offset="0.0623" stop-color="#ffffb2"/><stop offset="0.0892" stop-color="#ffff8f"/><stop offset="0.1107" stop-color="#ffff6c"/><stop offset="0.1296" stop-color="#ffff49"/><stop offset="0.1470" stop-color="#ffff26"/><stop offset="0.1648" stop-color="#ffff00"/><stop offset="0.1858" stop-color="#ffd300"/><stop offset="0.2109" stop-color="#ff9d00"/><stop offset="0.2363" stop-color="#ff6800"/><stop offset="0.2629" stop-color="#ff3200"/><stop offset="0.2898" stop-color="#ff0000"/><stop offset="0.3155" stop-color="#d30000"/><stop offset="0.3377" stop-color="#b20000"/><stop offset="0.3630" stop-color="#900000"/><stop offset="0.3933" stop-color="#6f0000"/><stop offset="0.4234" stop-color="#540000"/><stop offset="0.4524" stop-color="#400000"/><stop offset="0.4827" stop-color="#300000"/><stop offset="0.5199" stop-color="#220000"/><stop offset="0.5611" stop-color="#180000"/><stop offset="0.6227" stop-color="#100000"/><stop offset="0.7057" stop-color="#0c0000"/></radialGradient>
<radialGradient id="Bq29" gradientUnits="userSpaceOnUse" cx="1172.8" cy="178.5" r="200.0"><stop offset="0.0622" stop-color="#ffffb2"/><stop offset="0.0890" stop-color="#ffff8f"/><stop offset="0.1105" stop-color="#ffff6c"/><stop offset="0.1294" stop-color="#ffff49"/><stop offset="0.1468" stop-color="#ffff26"/><stop offset="0.1646" stop-color="#ffff00"/><stop offset="0.1855" stop-color="#ffd300"/><stop offset="0.2106" stop-color="#ff9d00"/><stop offset="0.2359" stop-color="#ff6800"/><stop offset="0.2625" stop-color="#ff3200"/><stop offset="0.2893" stop-color="#ff0000"/><stop offset="0.3150" stop-color="#d30000"/><stop offset="0.3372" stop-color="#b20000"/><stop offset="0.3625" stop-color="#900000"/><stop offset="0.3927" stop-color="#6f0000"/><stop offset="0.4228" stop-color="#540000"/><stop offset="0.4517" stop-color="#400000"/><stop offset="0.4819" stop-color="#300000"/><stop offset="0.5192" stop-color="#220000"/><stop offset="0.5603" stop-color="#180000"/><stop offset="0.6217" stop-color="#100000"/><stop offset="0.7046" stop-color="#0c0000"/></radialGradient>
<radialGradient id="Bq30" gradientUnits="userSpaceOnUse" cx="1172.8" cy="178.5" r="200.0"><stop offset="0.0621" stop-color="#ffffb2"/><stop offset="0.0889" stop-color="#ffff8f"/><stop offset="0.1103" stop-color="#ffff6c"/><stop offset="0.1292" stop-color="#ffff49"/><stop offset="0.1465" stop-color="#ffff26"/><stop offset="0.1643" stop-color="#ffff00"/><stop offset="0.1852" stop-color="#ffd300"/><stop offset="0.2102" stop-color="#ff9d00"/><stop offset="0.2356" stop-color="#ff6800"/><stop offset="0.2621" stop-color="#ff3200"/><stop offset="0.2889" stop-color="#ff0000"/><stop offset="0.3146" stop-color="#d30000"/><stop offset="0.3367" stop-color="#b20000"/><stop offset="0.3619" stop-color="#900000"/><stop offset="0.3921" stop-color="#6f0000"/><stop offset="0.4222" stop-color="#540000"/><stop offset="0.4510" stop-color="#400000"/><stop offset="0.4812" stop-color="#300000"/><stop offset="0.5184" stop-color="#220000"/><stop offset="0.5594" stop-color="#180000"/><stop offset="0.6208" stop-color="#100000"/><stop offset="0.7036" stop-color="#0c0000"/></radialGradient>
<radialGradient id="Bq31" gradientUnits="userSpaceOnUse" cx="1172.8" cy="178.5" r="200.0"><stop offset="0.0620" stop-color="#ffffb2"/><stop offset="0.0888" stop-color="#ffff8f"/><stop offset="0.1102" stop-color="#ffff6c"/><stop offset="0.1290" stop-color="#ffff49"/><stop offset="0.1463" stop-color="#ffff26"/><stop offset="0.1641" stop-color="#ffff00"/><stop offset="0.1850" stop-color="#ffd300"/><stop offset="0.2099" stop-color="#ff9d00"/><stop offset="0.2353" stop-color="#ff6800"/><stop offset="0.2617" stop-color="#ff3200"/><stop offset="0.2885" stop-color="#ff0000"/><stop offset="0.3141" stop-color="#d30000"/><stop offset="0.3362" stop-color="#b20000"/><stop offset="0.3614" stop-color="#900000"/><stop offset="0.3915" stop-color="#6f0000"/><stop offset="0.4216" stop-color="#540000"/><stop offset="0.4504" stop-color="#400000"/><stop offset="0.4806" stop-color="#300000"/><stop offset="0.5177" stop-color="#220000"/><stop offset="0.5587" stop-color="#180000"/><stop offset="0.6200" stop-color="#100000"/><stop offset="0.7027" stop-color="#0c0000"/></radialGradient>
<radialGradient id="Bq32" gradientUnits="userSpaceOnUse" cx="1172.8" cy="178.5" r="200.0"><stop offset="0.0619" stop-color="#ffffb2"/><stop offset="0.0887" stop-color="#ffff8f"/><stop offset="0.1100" stop-color="#ffff6c"/><stop offset="0.1288" stop-color="#ffff49"/><stop offset="0.1461" stop-color="#ffff26"/><stop offset="0.1638" stop-color="#ffff00"/><stop offset="0.1847" stop-color="#ffd300"/><stop offset="0.2096" stop-color="#ff9d00"/><stop offset="0.2349" stop-color="#ff6800"/><stop offset="0.2614" stop-color="#ff3200"/><stop offset="0.2881" stop-color="#ff0000"/><stop offset="0.3137" stop-color="#d30000"/><stop offset="0.3358" stop-color="#b20000"/><stop offset="0.3609" stop-color="#900000"/><stop offset="0.3910" stop-color="#6f0000"/><stop offset="0.4210" stop-color="#540000"/><stop offset="0.4498" stop-color="#400000"/><stop offset="0.4799" stop-color="#300000"/><stop offset="0.5170" stop-color="#220000"/><stop offset="0.5579" stop-color="#180000"/><stop offset="0.6192" stop-color="#100000"/><stop offset="0.7018" stop-color="#0c0000"/></radialGradient>
<radialGradient id="Bq33" gradientUnits="userSpaceOnUse" cx="1172.8" cy="178.5" r="200.0"><stop offset="0.0618" stop-color="#ffffb2"/><stop offset="0.0885" stop-color="#ffff8f"/><stop offset="0.1099" stop-color="#ffff6c"/><stop offset="0.1287" stop-color="#ffff49"/><stop offset="0.1459" stop-color="#ffff26"/><stop offset="0.1636" stop-color="#ffff00"/><stop offset="0.1845" stop-color="#ffd300"/><stop offset="0.2094" stop-color="#ff9d00"/><stop offset="0.2346" stop-color="#ff6800"/><stop offset="0.2610" stop-color="#ff3200"/><stop offset="0.2877" stop-color="#ff0000"/><stop offset="0.3133" stop-color="#d30000"/><stop offset="0.3353" stop-color="#b20000"/><stop offset="0.3605" stop-color="#900000"/><stop offset="0.3905" stop-color="#6f0000"/><stop offset="0.4205" stop-color="#540000"/><stop offset="0.4492" stop-color="#400000"/><stop offset="0.4793" stop-color="#300000"/><stop offset="0.5163" stop-color="#220000"/><stop offset="0.5572" stop-color="#180000"/><stop offset="0.6184" stop-color="#100000"/><stop offset="0.7009" stop-color="#0c0000"/></radialGradient>
<radialGradient id="Bq34" gradientUnits="userSpaceOnUse" cx="1172.8" cy="178.5" r="200.0"><stop offset="0.0617" stop-color="#ffffb2"/><stop offset="0.0884" stop-color="#ffff8f"/><stop offset="0.1097" stop-color="#ffff6c"/><stop offset="0.1285" stop-color="#ffff49"/><stop offset="0.1458" stop-color="#ffff26"/><stop offset="0.1634" stop-color="#ffff00"/><stop offset="0.1843" stop-color="#ffd300"/><stop offset="0.2091" stop-color="#ff9d00"/><stop offset="0.2343" stop-color="#ff6800"/><stop offset="0.2607" stop-color="#ff3200"/><stop offset="0.2874" stop-color="#ff0000"/><stop offset="0.3129" stop-color="#d30000"/><stop offset="0.3349" stop-color="#b20000"/><stop offset="0.3600" stop-color="#900000"/><stop offset="0.3900" stop-color="#6f0000"/><stop offset="0.4200" stop-color="#540000"/><stop offset="0.4487" stop-color="#400000"/><stop offset="0.4788" stop-color="#300000"/><stop offset="0.5157" stop-color="#220000"/><stop offset="0.5566" stop-color="#180000"/><stop offset="0.6177" stop-color="#100000"/><stop offset="0.7001" stop-color="#0c0000"/></radialGradient>
<radialGradient id="Bq35" gradientUnits="userSpaceOnUse" cx="1172.8" cy="178.5" r="200.0"><stop offset="0.0617" stop-color="#ffffb2"/><stop offset="0.0883" stop-color="#ffff8f"/><stop offset="0.1096" stop-color="#ffff6c"/><stop offset="0.1284" stop-color="#ffff49"/><stop offset="0.1456" stop-color="#ffff26"/><stop offset="0.1632" stop-color="#ffff00"/><stop offset="0.1840" stop-color="#ffd300"/><stop offset="0.2089" stop-color="#ff9d00"/><stop offset="0.2341" stop-color="#ff6800"/><stop offset="0.2604" stop-color="#ff3200"/><stop offset="0.2871" stop-color="#ff0000"/><stop offset="0.3126" stop-color="#d30000"/><stop offset="0.3346" stop-color="#b20000"/><stop offset="0.3596" stop-color="#900000"/><stop offset="0.3896" stop-color="#6f0000"/><stop offset="0.4195" stop-color="#540000"/><stop offset="0.4482" stop-color="#400000"/><stop offset="0.4782" stop-color="#300000"/><stop offset="0.5152" stop-color="#220000"/><stop offset="0.5560" stop-color="#180000"/><stop offset="0.6171" stop-color="#100000"/><stop offset="0.6994" stop-color="#0c0000"/></radialGradient>
<radialGradient id="Bq36" gradientUnits="userSpaceOnUse" cx="1172.8" cy="178.5" r="200.0"><stop offset="0.0616" stop-color="#ffffb2"/><stop offset="0.0882" stop-color="#ffff8f"/><stop offset="0.1095" stop-color="#ffff6c"/><stop offset="0.1282" stop-color="#ffff49"/><stop offset="0.1455" stop-color="#ffff26"/><stop offset="0.1631" stop-color="#ffff00"/><stop offset="0.1839" stop-color="#ffd300"/><stop offset="0.2087" stop-color="#ff9d00"/><stop offset="0.2338" stop-color="#ff6800"/><stop offset="0.2602" stop-color="#ff3200"/><stop offset="0.2868" stop-color="#ff0000"/><stop offset="0.3123" stop-color="#d30000"/><stop offset="0.3342" stop-color="#b20000"/><stop offset="0.3593" stop-color="#900000"/><stop offset="0.3892" stop-color="#6f0000"/><stop offset="0.4191" stop-color="#540000"/><stop offset="0.4477" stop-color="#400000"/><stop offset="0.4778" stop-color="#300000"/><stop offset="0.5147" stop-color="#220000"/><stop offset="0.5555" stop-color="#180000"/><stop offset="0.6165" stop-color="#100000"/><stop offset="0.6988" stop-color="#0c0000"/></radialGradient>
<radialGradient id="Bq37" gradientUnits="userSpaceOnUse" cx="1172.8" cy="178.5" r="200.0"><stop offset="0.0616" stop-color="#ffffb2"/><stop offset="0.0882" stop-color="#ffff8f"/><stop offset="0.1094" stop-color="#ffff6c"/><stop offset="0.1281" stop-color="#ffff49"/><stop offset="0.1453" stop-color="#ffff26"/><stop offset="0.1629" stop-color="#ffff00"/><stop offset="0.1837" stop-color="#ffd300"/><stop offset="0.2085" stop-color="#ff9d00"/><stop offset="0.2336" stop-color="#ff6800"/><stop offset="0.2599" stop-color="#ff3200"/><stop offset="0.2865" stop-color="#ff0000"/><stop offset="0.3120" stop-color="#d30000"/><stop offset="0.3339" stop-color="#b20000"/><stop offset="0.3589" stop-color="#900000"/><stop offset="0.3889" stop-color="#6f0000"/><stop offset="0.4187" stop-color="#540000"/><stop offset="0.4473" stop-color="#400000"/><stop offset="0.4773" stop-color="#300000"/><stop offset="0.5142" stop-color="#220000"/><stop offset="0.5550" stop-color="#180000"/><stop offset="0.6159" stop-color="#100000"/><stop offset="0.6982" stop-color="#0c0000"/></radialGradient>
<radialGradient id="Bq38" gradientUnits="userSpaceOnUse" cx="1172.8" cy="178.5" r="200.0"><stop offset="0.0615" stop-color="#ffffb2"/><stop offset="0.0881" stop-color="#ffff8f"/><stop offset="0.1093" stop-color="#ffff6c"/><stop offset="0.1280" stop-color="#ffff49"/><stop offset="0.1452" stop-color="#ffff26"/><stop offset="0.1628" stop-color="#ffff00"/><stop offset="0.1835" stop-color="#ffd300"/><stop offset="0.2083" stop-color="#ff9d00"/><stop offset="0.2334" stop-color="#ff6800"/><stop offset="0.2597" stop-color="#ff3200"/><stop offset="0.2863" stop-color="#ff0000"/><stop offset="0.3117" stop-color="#d30000"/><stop offset="0.3336" stop-color="#b20000"/><stop offset="0.3586" stop-color="#900000"/><stop offset="0.3885" stop-color="#6f0000"/><stop offset="0.4184" stop-color="#540000"/><stop offset="0.4470" stop-color="#400000"/><stop offset="0.4770" stop-color="#300000"/><stop offset="0.5138" stop-color="#220000"/><stop offset="0.5545" stop-color="#180000"/><stop offset="0.6154" stop-color="#100000"/><stop offset="0.6976" stop-color="#0c0000"/></radialGradient>
<radialGradient id="Bq39" gradientUnits="userSpaceOnUse" cx="1172.8" cy="178.5" r="200.0"><stop offset="0.0615" stop-color="#ffffb2"/><stop offset="0.0880" stop-color="#ffff8f"/><stop offset="0.1092" stop-color="#ffff6c"/><stop offset="0.1279" stop-color="#ffff49"/><stop offset="0.1451" stop-color="#ffff26"/><stop offset="0.1627" stop-color="#ffff00"/><stop offset="0.1834" stop-color="#ffd300"/><stop offset="0.2082" stop-color="#ff9d00"/><stop offset="0.2333" stop-color="#ff6800"/><stop offset="0.2595" stop-color="#ff3200"/><stop offset="0.2861" stop-color="#ff0000"/><stop offset="0.3115" stop-color="#d30000"/><stop offset="0.3334" stop-color="#b20000"/><stop offset="0.3584" stop-color="#900000"/><stop offset="0.3883" stop-color="#6f0000"/><stop offset="0.4181" stop-color="#540000"/><stop offset="0.4466" stop-color="#400000"/><stop offset="0.4766" stop-color="#300000"/><stop offset="0.5135" stop-color="#220000"/><stop offset="0.5542" stop-color="#180000"/><stop offset="0.6150" stop-color="#100000"/><stop offset="0.6972" stop-color="#0c0000"/></radialGradient>
<radialGradient id="Bq40" gradientUnits="userSpaceOnUse" cx="1172.8" cy="178.5" r="200.0"><stop offset="0.0614" stop-color="#ffffb2"/><stop offset="0.0880" stop-color="#ffff8f"/><stop offset="0.1092" stop-color="#ffff6c"/><stop offset="0.1278" stop-color="#ffff49"/><stop offset="0.1450" stop-color="#ffff26"/><stop offset="0.1626" stop-color="#ffff00"/><stop offset="0.1833" stop-color="#ffd300"/><stop offset="0.2080" stop-color="#ff9d00"/><stop offset="0.2331" stop-color="#ff6800"/><stop offset="0.2594" stop-color="#ff3200"/><stop offset="0.2859" stop-color="#ff0000"/><stop offset="0.3113" stop-color="#d30000"/><stop offset="0.3332" stop-color="#b20000"/><stop offset="0.3582" stop-color="#900000"/><stop offset="0.3880" stop-color="#6f0000"/><stop offset="0.4178" stop-color="#540000"/><stop offset="0.4464" stop-color="#400000"/><stop offset="0.4763" stop-color="#300000"/><stop offset="0.5132" stop-color="#220000"/><stop offset="0.5538" stop-color="#180000"/><stop offset="0.6147" stop-color="#100000"/><stop offset="0.6968" stop-color="#0c0000"/></radialGradient>
<radialGradient id="Bq41" gradientUnits="userSpaceOnUse" cx="1172.8" cy="178.5" r="200.0"><stop offset="0.0614" stop-color="#ffffb2"/><stop offset="0.0879" stop-color="#ffff8f"/><stop offset="0.1091" stop-color="#ffff6c"/><stop offset="0.1278" stop-color="#ffff49"/><stop offset="0.1449" stop-color="#ffff26"/><stop offset="0.1625" stop-color="#ffff00"/><stop offset="0.1832" stop-color="#ffd300"/><stop offset="0.2079" stop-color="#ff9d00"/><stop offset="0.2330" stop-color="#ff6800"/><stop offset="0.2592" stop-color="#ff3200"/><stop offset="0.2857" stop-color="#ff0000"/><stop offset="0.3111" stop-color="#d30000"/><stop offset="0.3330" stop-color="#b20000"/><stop offset="0.3580" stop-color="#900000"/><stop offset="0.3878" stop-color="#6f0000"/><stop offset="0.4176" stop-color="#540000"/><stop offset="0.4462" stop-color="#400000"/><stop offset="0.4761" stop-color="#300000"/><stop offset="0.5129" stop-color="#220000"/><stop offset="0.5536" stop-color="#180000"/><stop offset="0.6144" stop-color="#100000"/><stop offset="0.6965" stop-color="#0c0000"/></radialGradient>
<radialGradient id="Bq42" gradientUnits="userSpaceOnUse" cx="1172.8" cy="178.5" r="200.0"><stop offset="0.0614" stop-color="#ffffb2"/><stop offset="0.0879" stop-color="#ffff8f"/><stop offset="0.1091" stop-color="#ffff6c"/><stop offset="0.1277" stop-color="#ffff49"/><stop offset="0.1449" stop-color="#ffff26"/><stop offset="0.1624" stop-color="#ffff00"/><stop offset="0.1831" stop-color="#ffd300"/><stop offset="0.2078" stop-color="#ff9d00"/><stop offset="0.2329" stop-color="#ff6800"/><stop offset="0.2591" stop-color="#ff3200"/><stop offset="0.2856" stop-color="#ff0000"/><stop offset="0.3110" stop-color="#d30000"/><stop offset="0.3329" stop-color="#b20000"/><stop offset="0.3579" stop-color="#900000"/><stop offset="0.3877" stop-color="#6f0000"/><stop offset="0.4175" stop-color="#540000"/><stop offset="0.4460" stop-color="#400000"/><stop offset="0.4759" stop-color="#300000"/><stop offset="0.5127" stop-color="#220000"/><stop offset="0.5534" stop-color="#180000"/><stop offset="0.6142" stop-color="#100000"/><stop offset="0.6962" stop-color="#0c0000"/></radialGradient>
<radialGradient id="Bq43" gradientUnits="userSpaceOnUse" cx="1172.8" cy="178.5" r="200.0"><stop offset="0.0613" stop-color="#ffffb2"/><stop offset="0.0879" stop-color="#ffff8f"/><stop offset="0.1090" stop-color="#ffff6c"/><stop offset="0.1277" stop-color="#ffff49"/><stop offset="0.1448" stop-color="#ffff26"/><stop offset="0.1624" stop-color="#ffff00"/><stop offset="0.1831" stop-color="#ffd300"/><stop offset="0.2078" stop-color="#ff9d00"/><stop offset="0.2328" stop-color="#ff6800"/><stop offset="0.2591" stop-color="#ff3200"/><stop offset="0.2855" stop-color="#ff0000"/><stop offset="0.3109" stop-color="#d30000"/><stop offset="0.3328" stop-color="#b20000"/><stop offset="0.3578" stop-color="#900000"/><stop offset="0.3876" stop-color="#6f0000"/><stop offset="0.4173" stop-color="#540000"/><stop offset="0.4459" stop-color="#400000"/><stop offset="0.4758" stop-color="#300000"/><stop offset="0.5126" stop-color="#220000"/><stop offset="0.5532" stop-color="#180000"/><stop offset="0.6140" stop-color="#100000"/><stop offset="0.6960" stop-color="#0c0000"/></radialGradient>
<radialGradient id="Bq44" gradientUnits="userSpaceOnUse" cx="1172.8" cy="178.5" r="200.0"><stop offset="0.0613" stop-color="#ffffb2"/><stop offset="0.0878" stop-color="#ffff8f"/><stop offset="0.1090" stop-color="#ffff6c"/><stop offset="0.1276" stop-color="#ffff49"/><stop offset="0.1448" stop-color="#ffff26"/><stop offset="0.1624" stop-color="#ffff00"/><stop offset="0.1830" stop-color="#ffd300"/><stop offset="0.2077" stop-color="#ff9d00"/><stop offset="0.2328" stop-color="#ff6800"/><stop offset="0.2590" stop-color="#ff3200"/><stop offset="0.2855" stop-color="#ff0000"/><stop offset="0.3109" stop-color="#d30000"/><stop offset="0.3327" stop-color="#b20000"/><stop offset="0.3577" stop-color="#900000"/><stop offset="0.3875" stop-color="#6f0000"/><stop offset="0.4173" stop-color="#540000"/><stop offset="0.4458" stop-color="#400000"/><stop offset="0.4757" stop-color="#300000"/><stop offset="0.5125" stop-color="#220000"/><stop offset="0.5531" stop-color="#180000"/><stop offset="0.6139" stop-color="#100000"/><stop offset="0.6959" stop-color="#0c0000"/></radialGradient>
<radialGradient id="Bq45" gradientUnits="userSpaceOnUse" cx="1172.8" cy="178.5" r="200.0"><stop offset="0.0613" stop-color="#ffffb2"/><stop offset="0.0878" stop-color="#ffff8f"/><stop offset="0.1090" stop-color="#ffff6c"/><stop offset="0.1276" stop-color="#ffff49"/><stop offset="0.1448" stop-color="#ffff26"/><stop offset="0.1623" stop-color="#ffff00"/><stop offset="0.1830" stop-color="#ffd300"/><stop offset="0.2077" stop-color="#ff9d00"/><stop offset="0.2328" stop-color="#ff6800"/><stop offset="0.2590" stop-color="#ff3200"/><stop offset="0.2855" stop-color="#ff0000"/><stop offset="0.3109" stop-color="#d30000"/><stop offset="0.3327" stop-color="#b20000"/><stop offset="0.3577" stop-color="#900000"/><stop offset="0.3875" stop-color="#6f0000"/><stop offset="0.4173" stop-color="#540000"/><stop offset="0.4458" stop-color="#400000"/><stop offset="0.4757" stop-color="#300000"/><stop offset="0.5125" stop-color="#220000"/><stop offset="0.5531" stop-color="#180000"/><stop offset="0.6139" stop-color="#100000"/><stop offset="0.6959" stop-color="#0c0000"/></radialGradient>
<clipPath id="clipC"><rect x="1400.4" y="22.0" width="304.2" height="304.3"/></clipPath>
<radialGradient id="Cq0" gradientUnits="userSpaceOnUse" cx="1553.6" cy="174.5" r="200.0"><stop offset="0.1739" stop-color="#ffffb2"/><stop offset="0.1924" stop-color="#ffff8f"/><stop offset="0.2102" stop-color="#ffff6c"/><stop offset="0.2275" stop-color="#ffff49"/><stop offset="0.2444" stop-color="#ffff26"/><stop offset="0.2626" stop-color="#ffff00"/><stop offset="0.2848" stop-color="#ffd300"/><stop offset="0.3122" stop-color="#ff9d00"/><stop offset="0.3405" stop-color="#ff6800"/><stop offset="0.3706" stop-color="#ff3200"/><stop offset="0.4011" stop-color="#ff0000"/><stop offset="0.4301" stop-color="#d30000"/><stop offset="0.4547" stop-color="#b20000"/><stop offset="0.4822" stop-color="#900000"/><stop offset="0.5138" stop-color="#6f0000"/><stop offset="0.5432" stop-color="#540000"/><stop offset="0.5690" stop-color="#400000"/><stop offset="0.5930" stop-color="#300000"/><stop offset="0.6173" stop-color="#220000"/><stop offset="0.6375" stop-color="#180000"/><stop offset="0.6560" stop-color="#100000"/><stop offset="0.6662" stop-color="#0c0000"/></radialGradient>
<radialGradient id="Cq1" gradientUnits="userSpaceOnUse" cx="1553.6" cy="174.5" r="200.0"><stop offset="0.1733" stop-color="#ffffb2"/><stop offset="0.1918" stop-color="#ffff8f"/><stop offset="0.2095" stop-color="#ffff6c"/><stop offset="0.2267" stop-color="#ffff49"/><stop offset="0.2436" stop-color="#ffff26"/><stop offset="0.2617" stop-color="#ffff00"/><stop offset="0.2838" stop-color="#ffd300"/><stop offset="0.3110" stop-color="#ff9d00"/><stop offset="0.3393" stop-color="#ff6800"/><stop offset="0.3692" stop-color="#ff3200"/><stop offset="0.3995" stop-color="#ff0000"/><stop offset="0.4284" stop-color="#d30000"/><stop offset="0.4529" stop-color="#b20000"/><stop offset="0.4802" stop-color="#900000"/><stop offset="0.5115" stop-color="#6f0000"/><stop offset="0.5408" stop-color="#540000"/><stop offset="0.5664" stop-color="#400000"/><stop offset="0.5902" stop-color="#300000"/><stop offset="0.6144" stop-color="#220000"/><stop offset="0.6344" stop-color="#180000"/><stop offset="0.6527" stop-color="#100000"/><stop offset="0.6629" stop-color="#0c0000"/></radialGradient>
<radialGradient id="Cq2" gradientUnits="userSpaceOnUse" cx="1553.6" cy="174.5" r="200.0"><stop offset="0.1716" stop-color="#ffffb2"/><stop offset="0.1899" stop-color="#ffff8f"/><stop offset="0.2075" stop-color="#ffff6c"/><stop offset="0.2245" stop-color="#ffff49"/><stop offset="0.2412" stop-color="#ffff26"/><stop offset="0.2590" stop-color="#ffff00"/><stop offset="0.2809" stop-color="#ffd300"/><stop offset="0.3078" stop-color="#ff9d00"/><stop offset="0.3357" stop-color="#ff6800"/><stop offset="0.3652" stop-color="#ff3200"/><stop offset="0.3951" stop-color="#ff0000"/><stop offset="0.4235" stop-color="#d30000"/><stop offset="0.4477" stop-color="#b20000"/><stop offset="0.4745" stop-color="#900000"/><stop offset="0.5053" stop-color="#6f0000"/><stop offset="0.5341" stop-color="#540000"/><stop offset="0.5592" stop-color="#400000"/><stop offset="0.5825" stop-color="#300000"/><stop offset="0.6063" stop-color="#220000"/><stop offset="0.6259" stop-color="#180000"/><stop offset="0.6438" stop-color="#100000"/><stop offset="0.6538" stop-color="#0c0000"/></radialGradient>
<radialGradient id="Cq3" gradientUnits="userSpaceOnUse" cx="1553.6" cy="174.5" r="200.0"><stop offset="0.1690" stop-color="#ffffb2"/><stop offset="0.1870" stop-color="#ffff8f"/><stop offset="0.2042" stop-color="#ffff6c"/><stop offset="0.2209" stop-color="#ffff49"/><stop offset="0.2374" stop-color="#ffff26"/><stop offset="0.2549" stop-color="#ffff00"/><stop offset="0.2764" stop-color="#ffd300"/><stop offset="0.3028" stop-color="#ff9d00"/><stop offset="0.3301" stop-color="#ff6800"/><stop offset="0.3591" stop-color="#ff3200"/><stop offset="0.3883" stop-color="#ff0000"/><stop offset="0.4162" stop-color="#d30000"/><stop offset="0.4398" stop-color="#b20000"/><stop offset="0.4661" stop-color="#900000"/><stop offset="0.4962" stop-color="#6f0000"/><stop offset="0.5243" stop-color="#540000"/><stop offset="0.5488" stop-color="#400000"/><stop offset="0.5715" stop-color="#300000"/><stop offset="0.5946" stop-color="#220000"/><stop offset="0.6137" stop-color="#180000"/><stop offset="0.6312" stop-color="#100000"/><stop offset="0.6409" stop-color="#0c0000"/></radialGradient>
<radialGradient id="Cq4" gradientUnits="userSpaceOnUse" cx="1553.6" cy="174.5" r="200.0"><stop offset="0.1655" stop-color="#ffffb2"/><stop offset="0.1831" stop-color="#ffff8f"/><stop offset="0.2000" stop-color="#ffff6c"/><stop offset="0.2164" stop-color="#ffff49"/><stop offset="0.2325" stop-color="#ffff26"/><stop offset="0.2496" stop-color="#ffff00"/><stop offset="0.2706" stop-color="#ffd300"/><stop offset="0.2964" stop-color="#ff9d00"/><stop offset="0.3232" stop-color="#ff6800"/><stop offset="0.3514" stop-color="#ff3200"/><stop offset="0.3800" stop-color="#ff0000"/><stop offset="0.4072" stop-color="#d30000"/><stop offset="0.4303" stop-color="#b20000"/><stop offset="0.4559" stop-color="#900000"/><stop offset="0.4853" stop-color="#6f0000"/><stop offset="0.5126" stop-color="#540000"/><stop offset="0.5365" stop-color="#400000"/><stop offset="0.5587" stop-color="#300000"/><stop offset="0.5812" stop-color="#220000"/><stop offset="0.5999" stop-color="#180000"/><stop offset="0.6169" stop-color="#100000"/><stop offset="0.6263" stop-color="#0c0000"/></radialGradient>
<radialGradient id="Cq5" gradientUnits="userSpaceOnUse" cx="1553.6" cy="174.5" r="200.0"><stop offset="0.1615" stop-color="#ffffb2"/><stop offset="0.1787" stop-color="#ffff8f"/><stop offset="0.1951" stop-color="#ffff6c"/><stop offset="0.2111" stop-color="#ffff49"/><stop offset="0.2268" stop-color="#ffff26"/><stop offset="0.2435" stop-color="#ffff00"/><stop offset="0.2640" stop-color="#ffd300"/><stop offset="0.2892" stop-color="#ff9d00"/><stop offset="0.3153" stop-color="#ff6800"/><stop offset="0.3429" stop-color="#ff3200"/><stop offset="0.3708" stop-color="#ff0000"/><stop offset="0.3974" stop-color="#d30000"/><stop offset="0.4199" stop-color="#b20000"/><stop offset="0.4449" stop-color="#900000"/><stop offset="0.4736" stop-color="#6f0000"/><stop offset="0.5003" stop-color="#540000"/><stop offset="0.5237" stop-color="#400000"/><stop offset="0.5454" stop-color="#300000"/><stop offset="0.5674" stop-color="#220000"/><stop offset="0.5856" stop-color="#180000"/><stop offset="0.6023" stop-color="#100000"/><stop offset="0.6115" stop-color="#0c0000"/></radialGradient>
<radialGradient id="Cq6" gradientUnits="userSpaceOnUse" cx="1553.6" cy="174.5" r="200.0"><stop offset="0.1570" stop-color="#ffffb2"/><stop offset="0.1737" stop-color="#ffff8f"/><stop offset="0.1898" stop-color="#ffff6c"/><stop offset="0.2053" stop-color="#ffff49"/><stop offset="0.2206" stop-color="#ffff26"/><stop offset="0.2369" stop-color="#ffff00"/><stop offset="0.2569" stop-color="#ffd300"/><stop offset="0.2815" stop-color="#ff9d00"/><stop offset="0.3070" stop-color="#ff6800"/><stop offset="0.3339" stop-color="#ff3200"/><stop offset="0.3612" stop-color="#ff0000"/><stop offset="0.3872" stop-color="#d30000"/><stop offset="0.4092" stop-color="#b20000"/><stop offset="0.4337" stop-color="#900000"/><stop offset="0.4618" stop-color="#6f0000"/><stop offset="0.4880" stop-color="#540000"/><stop offset="0.5110" stop-color="#400000"/><stop offset="0.5322" stop-color="#300000"/><stop offset="0.5539" stop-color="#220000"/><stop offset="0.5718" stop-color="#180000"/><stop offset="0.5882" stop-color="#100000"/><stop offset="0.5972" stop-color="#0c0000"/></radialGradient>
<radialGradient id="Cq7" gradientUnits="userSpaceOnUse" cx="1553.6" cy="174.5" r="200.0"><stop offset="0.1523" stop-color="#ffffb2"/><stop offset="0.1686" stop-color="#ffff8f"/><stop offset="0.1841" stop-color="#ffff6c"/><stop offset="0.1993" stop-color="#ffff49"/><stop offset="0.2142" stop-color="#ffff26"/><stop offset="0.2301" stop-color="#ffff00"/><stop offset="0.2495" stop-color="#ffd300"/><stop offset="0.2736" stop-color="#ff9d00"/><stop offset="0.2985" stop-color="#ff6800"/><stop offset="0.3248" stop-color="#ff3200"/><stop offset="0.3515" stop-color="#ff0000"/><stop offset="0.3770" stop-color="#d30000"/><stop offset="0.3986" stop-color="#b20000"/><stop offset="0.4227" stop-color="#900000"/><stop offset="0.4503" stop-color="#6f0000"/><stop offset="0.4762" stop-color="#540000"/><stop offset="0.4987" stop-color="#400000"/><stop offset="0.5197" stop-color="#300000"/><stop offset="0.5410" stop-color="#220000"/><stop offset="0.5587" stop-color="#180000"/><stop offset="0.5748" stop-color="#100000"/><stop offset="0.5838" stop-color="#0c0000"/></radialGradient>
<radialGradient id="Cq8" gradientUnits="userSpaceOnUse" cx="1553.6" cy="174.5" r="200.0"><stop offset="0.1475" stop-color="#ffffb2"/><stop offset="0.1633" stop-color="#ffff8f"/><stop offset="0.1784" stop-color="#ffff6c"/><stop offset="0.1932" stop-color="#ffff49"/><stop offset="0.2076" stop-color="#ffff26"/><stop offset="0.2232" stop-color="#ffff00"/><stop offset="0.2422" stop-color="#ffd300"/><stop offset="0.2656" stop-color="#ff9d00"/><stop offset="0.2900" stop-color="#ff6800"/><stop offset="0.3159" stop-color="#ff3200"/><stop offset="0.3421" stop-color="#ff0000"/><stop offset="0.3671" stop-color="#d30000"/><stop offset="0.3884" stop-color="#b20000"/><stop offset="0.4121" stop-color="#900000"/><stop offset="0.4394" stop-color="#6f0000"/><stop offset="0.4648" stop-color="#540000"/><stop offset="0.4871" stop-color="#400000"/><stop offset="0.5078" stop-color="#300000"/><stop offset="0.5289" stop-color="#220000"/><stop offset="0.5464" stop-color="#180000"/><stop offset="0.5623" stop-color="#100000"/><stop offset="0.5712" stop-color="#0c0000"/></radialGradient>
<radialGradient id="Cq9" gradientUnits="userSpaceOnUse" cx="1553.6" cy="174.5" r="200.0"><stop offset="0.1426" stop-color="#ffffb2"/><stop offset="0.1580" stop-color="#ffff8f"/><stop offset="0.1727" stop-color="#ffff6c"/><stop offset="0.1871" stop-color="#ffff49"/><stop offset="0.2012" stop-color="#ffff26"/><stop offset="0.2163" stop-color="#ffff00"/><stop offset="0.2349" stop-color="#ffd300"/><stop offset="0.2579" stop-color="#ff9d00"/><stop offset="0.2818" stop-color="#ff6800"/><stop offset="0.3071" stop-color="#ff3200"/><stop offset="0.3330" stop-color="#ff0000"/><stop offset="0.3576" stop-color="#d30000"/><stop offset="0.3786" stop-color="#b20000"/><stop offset="0.4020" stop-color="#900000"/><stop offset="0.4289" stop-color="#6f0000"/><stop offset="0.4541" stop-color="#540000"/><stop offset="0.4762" stop-color="#400000"/><stop offset="0.4967" stop-color="#300000"/><stop offset="0.5176" stop-color="#220000"/><stop offset="0.5349" stop-color="#180000"/><stop offset="0.5507" stop-color="#100000"/><stop offset="0.5595" stop-color="#0c0000"/></radialGradient>
<radialGradient id="Cq10" gradientUnits="userSpaceOnUse" cx="1553.6" cy="174.5" r="200.0"><stop offset="0.1379" stop-color="#ffffb2"/><stop offset="0.1528" stop-color="#ffff8f"/><stop offset="0.1672" stop-color="#ffff6c"/><stop offset="0.1811" stop-color="#ffff49"/><stop offset="0.1949" stop-color="#ffff26"/><stop offset="0.2097" stop-color="#ffff00"/><stop offset="0.2279" stop-color="#ffd300"/><stop offset="0.2504" stop-color="#ff9d00"/><stop offset="0.2738" stop-color="#ff6800"/><stop offset="0.2988" stop-color="#ff3200"/><stop offset="0.3242" stop-color="#ff0000"/><stop offset="0.3486" stop-color="#d30000"/><stop offset="0.3693" stop-color="#b20000"/><stop offset="0.3925" stop-color="#900000"/><stop offset="0.4191" stop-color="#6f0000"/><stop offset="0.4441" stop-color="#540000"/><stop offset="0.4660" stop-color="#400000"/><stop offset="0.4863" stop-color="#300000"/><stop offset="0.5070" stop-color="#220000"/><stop offset="0.5242" stop-color="#180000"/><stop offset="0.5399" stop-color="#100000"/><stop offset="0.5486" stop-color="#0c0000"/></radialGradient>
<radialGradient id="Cq11" gradientUnits="userSpaceOnUse" cx="1553.6" cy="174.5" r="200.0"><stop offset="0.1333" stop-color="#ffffb2"/><stop offset="0.1478" stop-color="#ffff8f"/><stop offset="0.1618" stop-color="#ffff6c"/><stop offset="0.1754" stop-color="#ffff49"/><stop offset="0.1888" stop-color="#ffff26"/><stop offset="0.2033" stop-color="#ffff00"/><stop offset="0.2211" stop-color="#ffd300"/><stop offset="0.2431" stop-color="#ff9d00"/><stop offset="0.2662" stop-color="#ff6800"/><stop offset="0.2908" stop-color="#ff3200"/><stop offset="0.3159" stop-color="#ff0000"/><stop offset="0.3400" stop-color="#d30000"/><stop offset="0.3605" stop-color="#b20000"/><stop offset="0.3835" stop-color="#900000"/><stop offset="0.4099" stop-color="#6f0000"/><stop offset="0.4347" stop-color="#540000"/><stop offset="0.4564" stop-color="#400000"/><stop offset="0.4765" stop-color="#300000"/><stop offset="0.4971" stop-color="#220000"/><stop offset="0.5142" stop-color="#180000"/><stop offset="0.5298" stop-color="#100000"/><stop offset="0.5385" stop-color="#0c0000"/></radialGradient>
<radialGradient id="Cq12" gradientUnits="userSpaceOnUse" cx="1553.6" cy="174.5" r="200.0"><stop offset="0.1289" stop-color="#ffffb2"/><stop offset="0.1430" stop-color="#ffff8f"/><stop offset="0.1566" stop-color="#ffff6c"/><stop offset="0.1699" stop-color="#ffff49"/><stop offset="0.1830" stop-color="#ffff26"/><stop offset="0.1971" stop-color="#ffff00"/><stop offset="0.2146" stop-color="#ffd300"/><stop offset="0.2363" stop-color="#ff9d00"/><stop offset="0.2590" stop-color="#ff6800"/><stop offset="0.2832" stop-color="#ff3200"/><stop offset="0.3081" stop-color="#ff0000"/><stop offset="0.3319" stop-color="#d30000"/><stop offset="0.3522" stop-color="#b20000"/><stop offset="0.3750" stop-color="#900000"/><stop offset="0.4012" stop-color="#6f0000"/><stop offset="0.4258" stop-color="#540000"/><stop offset="0.4474" stop-color="#400000"/><stop offset="0.4674" stop-color="#300000"/><stop offset="0.4879" stop-color="#220000"/><stop offset="0.5049" stop-color="#180000"/><stop offset="0.5204" stop-color="#100000"/><stop offset="0.5291" stop-color="#0c0000"/></radialGradient>
<radialGradient id="Cq13" gradientUnits="userSpaceOnUse" cx="1553.6" cy="174.5" r="200.0"><stop offset="0.1247" stop-color="#ffffb2"/><stop offset="0.1384" stop-color="#ffff8f"/><stop offset="0.1516" stop-color="#ffff6c"/><stop offset="0.1646" stop-color="#ffff49"/><stop offset="0.1774" stop-color="#ffff26"/><stop offset="0.1913" stop-color="#ffff00"/><stop offset="0.2084" stop-color="#ffd300"/><stop offset="0.2297" stop-color="#ff9d00"/><stop offset="0.2521" stop-color="#ff6800"/><stop offset="0.2761" stop-color="#ff3200"/><stop offset="0.3006" stop-color="#ff0000"/><stop offset="0.3242" stop-color="#d30000"/><stop offset="0.3444" stop-color="#b20000"/><stop offset="0.3670" stop-color="#900000"/><stop offset="0.3930" stop-color="#6f0000"/><stop offset="0.4175" stop-color="#540000"/><stop offset="0.4389" stop-color="#400000"/><stop offset="0.4589" stop-color="#300000"/><stop offset="0.4792" stop-color="#220000"/><stop offset="0.4962" stop-color="#180000"/><stop offset="0.5117" stop-color="#100000"/><stop offset="0.5203" stop-color="#0c0000"/></radialGradient>
<radialGradient id="Cq14" gradientUnits="userSpaceOnUse" cx="1553.6" cy="174.5" r="200.0"><stop offset="0.1207" stop-color="#ffffb2"/><stop offset="0.1340" stop-color="#ffff8f"/><stop offset="0.1469" stop-color="#ffff6c"/><stop offset="0.1596" stop-color="#ffff49"/><stop offset="0.1722" stop-color="#ffff26"/><stop offset="0.1858" stop-color="#ffff00"/><stop offset="0.2026" stop-color="#ffd300"/><stop offset="0.2235" stop-color="#ff9d00"/><stop offset="0.2456" stop-color="#ff6800"/><stop offset="0.2693" stop-color="#ff3200"/><stop offset="0.2936" stop-color="#ff0000"/><stop offset="0.3170" stop-color="#d30000"/><stop offset="0.3370" stop-color="#b20000"/><stop offset="0.3594" stop-color="#900000"/><stop offset="0.3853" stop-color="#6f0000"/><stop offset="0.4096" stop-color="#540000"/><stop offset="0.4310" stop-color="#400000"/><stop offset="0.4508" stop-color="#300000"/><stop offset="0.4711" stop-color="#220000"/><stop offset="0.4880" stop-color="#180000"/><stop offset="0.5034" stop-color="#100000"/><stop offset="0.5120" stop-color="#0c0000"/></radialGradient>
<radialGradient id="Cq15" gradientUnits="userSpaceOnUse" cx="1553.6" cy="174.5" r="200.0"><stop offset="0.1169" stop-color="#ffffb2"/><stop offset="0.1299" stop-color="#ffff8f"/><stop offset="0.1425" stop-color="#ffff6c"/><stop offset="0.1549" stop-color="#ffff49"/><stop offset="0.1672" stop-color="#ffff26"/><stop offset="0.1805" stop-color="#ffff00"/><stop offset="0.1970" stop-color="#ffd300"/><stop offset="0.2177" stop-color="#ff9d00"/><stop offset="0.2395" stop-color="#ff6800"/><stop offset="0.2629" stop-color="#ff3200"/><stop offset="0.2870" stop-color="#ff0000"/><stop offset="0.3102" stop-color="#d30000"/><stop offset="0.3300" stop-color="#b20000"/><stop offset="0.3523" stop-color="#900000"/><stop offset="0.3781" stop-color="#6f0000"/><stop offset="0.4022" stop-color="#540000"/><stop offset="0.4235" stop-color="#400000"/><stop offset="0.4433" stop-color="#300000"/><stop offset="0.4635" stop-color="#220000"/><stop offset="0.4803" stop-color="#180000"/><stop offset="0.4957" stop-color="#100000"/><stop offset="0.5043" stop-color="#0c0000"/></radialGradient>
<radialGradient id="Cq16" gradientUnits="userSpaceOnUse" cx="1553.6" cy="174.5" r="200.0"><stop offset="0.1133" stop-color="#ffffb2"/><stop offset="0.1260" stop-color="#ffff8f"/><stop offset="0.1383" stop-color="#ffff6c"/><stop offset="0.1505" stop-color="#ffff49"/><stop offset="0.1625" stop-color="#ffff26"/><stop offset="0.1756" stop-color="#ffff00"/><stop offset="0.1918" stop-color="#ffd300"/><stop offset="0.2122" stop-color="#ff9d00"/><stop offset="0.2337" stop-color="#ff6800"/><stop offset="0.2569" stop-color="#ff3200"/><stop offset="0.2807" stop-color="#ff0000"/><stop offset="0.3037" stop-color="#d30000"/><stop offset="0.3235" stop-color="#b20000"/><stop offset="0.3456" stop-color="#900000"/><stop offset="0.3712" stop-color="#6f0000"/><stop offset="0.3953" stop-color="#540000"/><stop offset="0.4165" stop-color="#400000"/><stop offset="0.4362" stop-color="#300000"/><stop offset="0.4564" stop-color="#220000"/><stop offset="0.4731" stop-color="#180000"/><stop offset="0.4885" stop-color="#100000"/><stop offset="0.4971" stop-color="#0c0000"/></radialGradient>
<radialGradient id="Cq17" gradientUnits="userSpaceOnUse" cx="1553.6" cy="174.5" r="200.0"><stop offset="0.1100" stop-color="#ffffb2"/><stop offset="0.1224" stop-color="#ffff8f"/><stop offset="0.1344" stop-color="#ffff6c"/><stop offset="0.1463" stop-color="#ffff49"/><stop offset="0.1581" stop-color="#ffff26"/><stop offset="0.1709" stop-color="#ffff00"/><stop offset="0.1869" stop-color="#ffd300"/><stop offset="0.2070" stop-color="#ff9d00"/><stop offset="0.2282" stop-color="#ff6800"/><stop offset="0.2512" stop-color="#ff3200"/><stop offset="0.2748" stop-color="#ff0000"/><stop offset="0.2977" stop-color="#d30000"/><stop offset="0.3173" stop-color="#b20000"/><stop offset="0.3393" stop-color="#900000"/><stop offset="0.3648" stop-color="#6f0000"/><stop offset="0.3888" stop-color="#540000"/><stop offset="0.4099" stop-color="#400000"/><stop offset="0.4295" stop-color="#300000"/><stop offset="0.4496" stop-color="#220000"/><stop offset="0.4664" stop-color="#180000"/><stop offset="0.4817" stop-color="#100000"/><stop offset="0.4903" stop-color="#0c0000"/></radialGradient>
<radialGradient id="Cq18" gradientUnits="userSpaceOnUse" cx="1553.6" cy="174.5" r="200.0"><stop offset="0.1068" stop-color="#ffffb2"/><stop offset="0.1189" stop-color="#ffff8f"/><stop offset="0.1307" stop-color="#ffff6c"/><stop offset="0.1424" stop-color="#ffff49"/><stop offset="0.1540" stop-color="#ffff26"/><stop offset="0.1666" stop-color="#ffff00"/><stop offset="0.1823" stop-color="#ffd300"/><stop offset="0.2021" stop-color="#ff9d00"/><stop offset="0.2231" stop-color="#ff6800"/><stop offset="0.2458" stop-color="#ff3200"/><stop offset="0.2693" stop-color="#ff0000"/><stop offset="0.2920" stop-color="#d30000"/><stop offset="0.3115" stop-color="#b20000"/><stop offset="0.3334" stop-color="#900000"/><stop offset="0.3587" stop-color="#6f0000"/><stop offset="0.3826" stop-color="#540000"/><stop offset="0.4036" stop-color="#400000"/><stop offset="0.4233" stop-color="#300000"/><stop offset="0.4433" stop-color="#220000"/><stop offset="0.4600" stop-color="#180000"/><stop offset="0.4754" stop-color="#100000"/><stop offset="0.4839" stop-color="#0c0000"/></radialGradient>
<radialGradient id="Cq19" gradientUnits="userSpaceOnUse" cx="1553.6" cy="174.5" r="200.0"><stop offset="0.1039" stop-color="#ffffb2"/><stop offset="0.1157" stop-color="#ffff8f"/><stop offset="0.1273" stop-color="#ffff6c"/><stop offset="0.1387" stop-color="#ffff49"/><stop offset="0.1501" stop-color="#ffff26"/><stop offset="0.1625" stop-color="#ffff00"/><stop offset="0.1780" stop-color="#ffd300"/><stop offset="0.1975" stop-color="#ff9d00"/><stop offset="0.2183" stop-color="#ff6800"/><stop offset="0.2408" stop-color="#ff3200"/><stop offset="0.2641" stop-color="#ff0000"/><stop offset="0.2866" stop-color="#d30000"/><stop offset="0.3060" stop-color="#b20000"/><stop offset="0.3278" stop-color="#900000"/><stop offset="0.3530" stop-color="#6f0000"/><stop offset="0.3768" stop-color="#540000"/><stop offset="0.3978" stop-color="#400000"/><stop offset="0.4174" stop-color="#300000"/><stop offset="0.4374" stop-color="#220000"/><stop offset="0.4541" stop-color="#180000"/><stop offset="0.4694" stop-color="#100000"/><stop offset="0.4780" stop-color="#0c0000"/></radialGradient>
<radialGradient id="Cq20" gradientUnits="userSpaceOnUse" cx="1553.6" cy="174.5" r="200.0"><stop offset="0.1011" stop-color="#ffffb2"/><stop offset="0.1127" stop-color="#ffff8f"/><stop offset="0.1240" stop-color="#ffff6c"/><stop offset="0.1352" stop-color="#ffff49"/><stop offset="0.1464" stop-color="#ffff26"/><stop offset="0.1586" stop-color="#ffff00"/><stop offset="0.1739" stop-color="#ffd300"/><stop offset="0.1932" stop-color="#ff9d00"/><stop offset="0.2138" stop-color="#ff6800"/><stop offset="0.2361" stop-color="#ff3200"/><stop offset="0.2592" stop-color="#ff0000"/><stop offset="0.2815" stop-color="#d30000"/><stop offset="0.3008" stop-color="#b20000"/><stop offset="0.3225" stop-color="#900000"/><stop offset="0.3476" stop-color="#6f0000"/><stop offset="0.3714" stop-color="#540000"/><stop offset="0.3923" stop-color="#400000"/><stop offset="0.4118" stop-color="#300000"/><stop offset="0.4318" stop-color="#220000"/><stop offset="0.4485" stop-color="#180000"/><stop offset="0.4638" stop-color="#100000"/><stop offset="0.4724" stop-color="#0c0000"/></radialGradient>
<radialGradient id="Cq21" gradientUnits="userSpaceOnUse" cx="1553.6" cy="174.5" r="200.0"><stop offset="0.0986" stop-color="#ffffb2"/><stop offset="0.1099" stop-color="#ffff8f"/><stop offset="0.1210" stop-color="#ffff6c"/><stop offset="0.1320" stop-color="#ffff49"/><stop offset="0.1430" stop-color="#ffff26"/><stop offset="0.1550" stop-color="#ffff00"/><stop offset="0.1701" stop-color="#ffd300"/><stop offset="0.1892" stop-color="#ff9d00"/><stop offset="0.2095" stop-color="#ff6800"/><stop offset="0.2316" stop-color="#ff3200"/><stop offset="0.2545" stop-color="#ff0000"/><stop offset="0.2768" stop-color="#d30000"/><stop offset="0.2959" stop-color="#b20000"/><stop offset="0.3175" stop-color="#900000"/><stop offset="0.3426" stop-color="#6f0000"/><stop offset="0.3662" stop-color="#540000"/><stop offset="0.3871" stop-color="#400000"/><stop offset="0.4066" stop-color="#300000"/><stop offset="0.4266" stop-color="#220000"/><stop offset="0.4432" stop-color="#180000"/><stop offset="0.4586" stop-color="#100000"/><stop offset="0.4671" stop-color="#0c0000"/></radialGradient>
<radialGradient id="Cq22" gradientUnits="userSpaceOnUse" cx="1553.6" cy="174.5" r="200.0"><stop offset="0.0962" stop-color="#ffffb2"/><stop offset="0.1073" stop-color="#ffff8f"/><stop offset="0.1182" stop-color="#ffff6c"/><stop offset="0.1290" stop-color="#ffff49"/><stop offset="0.1398" stop-color="#ffff26"/><stop offset="0.1517" stop-color="#ffff00"/><stop offset="0.1665" stop-color="#ffd300"/><stop offset="0.1854" stop-color="#ff9d00"/><stop offset="0.2055" stop-color="#ff6800"/><stop offset="0.2274" stop-color="#ff3200"/><stop offset="0.2502" stop-color="#ff0000"/><stop offset="0.2723" stop-color="#d30000"/><stop offset="0.2914" stop-color="#b20000"/><stop offset="0.3129" stop-color="#900000"/><stop offset="0.3378" stop-color="#6f0000"/><stop offset="0.3614" stop-color="#540000"/><stop offset="0.3822" stop-color="#400000"/><stop offset="0.4017" stop-color="#300000"/><stop offset="0.4216" stop-color="#220000"/><stop offset="0.4383" stop-color="#180000"/><stop offset="0.4536" stop-color="#100000"/><stop offset="0.4622" stop-color="#0c0000"/></radialGradient>
<radialGradient id="Cq23" gradientUnits="userSpaceOnUse" cx="1553.6" cy="174.5" r="200.0"><stop offset="0.0940" stop-color="#ffffb2"/><stop offset="0.1049" stop-color="#ffff8f"/><stop offset="0.1156" stop-color="#ffff6c"/><stop offset="0.1262" stop-color="#ffff49"/><stop offset="0.1369" stop-color="#ffff26"/><stop offset="0.1485" stop-color="#ffff00"/><stop offset="0.1632" stop-color="#ffd300"/><stop offset="0.1818" stop-color="#ff9d00"/><stop offset="0.2018" stop-color="#ff6800"/><stop offset="0.2235" stop-color="#ff3200"/><stop offset="0.2461" stop-color="#ff0000"/><stop offset="0.2681" stop-color="#d30000"/><stop offset="0.2871" stop-color="#b20000"/><stop offset="0.3085" stop-color="#900000"/><stop offset="0.3333" stop-color="#6f0000"/><stop offset="0.3569" stop-color="#540000"/><stop offset="0.3776" stop-color="#400000"/><stop offset="0.3971" stop-color="#300000"/><stop offset="0.4170" stop-color="#220000"/><stop offset="0.4337" stop-color="#180000"/><stop offset="0.4490" stop-color="#100000"/><stop offset="0.4576" stop-color="#0c0000"/></radialGradient>
<radialGradient id="Cq24" gradientUnits="userSpaceOnUse" cx="1553.6" cy="174.5" r="200.0"><stop offset="0.0919" stop-color="#ffffb2"/><stop offset="0.1026" stop-color="#ffff8f"/><stop offset="0.1131" stop-color="#ffff6c"/><stop offset="0.1236" stop-color="#ffff49"/><stop offset="0.1341" stop-color="#ffff26"/><stop offset="0.1456" stop-color="#ffff00"/><stop offset="0.1601" stop-color="#ffd300"/><stop offset="0.1785" stop-color="#ff9d00"/><stop offset="0.1983" stop-color="#ff6800"/><stop offset="0.2198" stop-color="#ff3200"/><stop offset="0.2423" stop-color="#ff0000"/><stop offset="0.2641" stop-color="#d30000"/><stop offset="0.2830" stop-color="#b20000"/><stop offset="0.3043" stop-color="#900000"/><stop offset="0.3291" stop-color="#6f0000"/><stop offset="0.3526" stop-color="#540000"/><stop offset="0.3733" stop-color="#400000"/><stop offset="0.3927" stop-color="#300000"/><stop offset="0.4127" stop-color="#220000"/><stop offset="0.4293" stop-color="#180000"/><stop offset="0.4447" stop-color="#100000"/><stop offset="0.4532" stop-color="#0c0000"/></radialGradient>
<radialGradient id="Cq25" gradientUnits="userSpaceOnUse" cx="1553.6" cy="174.5" r="200.0"><stop offset="0.0900" stop-color="#ffffb2"/><stop offset="0.1005" stop-color="#ffff8f"/><stop offset="0.1109" stop-color="#ffff6c"/><stop offset="0.1211" stop-color="#ffff49"/><stop offset="0.1315" stop-color="#ffff26"/><stop offset="0.1429" stop-color="#ffff00"/><stop offset="0.1572" stop-color="#ffd300"/><stop offset="0.1754" stop-color="#ff9d00"/><stop offset="0.1950" stop-color="#ff6800"/><stop offset="0.2164" stop-color="#ff3200"/><stop offset="0.2387" stop-color="#ff0000"/><stop offset="0.2604" stop-color="#d30000"/><stop offset="0.2792" stop-color="#b20000"/><stop offset="0.3005" stop-color="#900000"/><stop offset="0.3252" stop-color="#6f0000"/><stop offset="0.3486" stop-color="#540000"/><stop offset="0.3693" stop-color="#400000"/><stop offset="0.3887" stop-color="#300000"/><stop offset="0.4086" stop-color="#220000"/><stop offset="0.4253" stop-color="#180000"/><stop offset="0.4406" stop-color="#100000"/><stop offset="0.4492" stop-color="#0c0000"/></radialGradient>
<radialGradient id="Cq26" gradientUnits="userSpaceOnUse" cx="1553.6" cy="174.5" r="200.0"><stop offset="0.0882" stop-color="#ffffb2"/><stop offset="0.0986" stop-color="#ffff8f"/><stop offset="0.1087" stop-color="#ffff6c"/><stop offset="0.1189" stop-color="#ffff49"/><stop offset="0.1291" stop-color="#ffff26"/><stop offset="0.1403" stop-color="#ffff00"/><stop offset="0.1545" stop-color="#ffd300"/><stop offset="0.1725" stop-color="#ff9d00"/><stop offset="0.1920" stop-color="#ff6800"/><stop offset="0.2132" stop-color="#ff3200"/><stop offset="0.2354" stop-color="#ff0000"/><stop offset="0.2570" stop-color="#d30000"/><stop offset="0.2757" stop-color="#b20000"/><stop offset="0.2969" stop-color="#900000"/><stop offset="0.3215" stop-color="#6f0000"/><stop offset="0.3448" stop-color="#540000"/><stop offset="0.3655" stop-color="#400000"/><stop offset="0.3849" stop-color="#300000"/><stop offset="0.4048" stop-color="#220000"/><stop offset="0.4215" stop-color="#180000"/><stop offset="0.4368" stop-color="#100000"/><stop offset="0.4454" stop-color="#0c0000"/></radialGradient>
<radialGradient id="Cq27" gradientUnits="userSpaceOnUse" cx="1553.6" cy="174.5" r="200.0"><stop offset="0.0866" stop-color="#ffffb2"/><stop offset="0.0968" stop-color="#ffff8f"/><stop offset="0.1068" stop-color="#ffff6c"/><stop offset="0.1168" stop-color="#ffff49"/><stop offset="0.1269" stop-color="#ffff26"/><stop offset="0.1380" stop-color="#ffff00"/><stop offset="0.1520" stop-color="#ffd300"/><stop offset="0.1699" stop-color="#ff9d00"/><stop offset="0.1891" stop-color="#ff6800"/><stop offset="0.2102" stop-color="#ff3200"/><stop offset="0.2322" stop-color="#ff0000"/><stop offset="0.2537" stop-color="#d30000"/><stop offset="0.2724" stop-color="#b20000"/><stop offset="0.2935" stop-color="#900000"/><stop offset="0.3180" stop-color="#6f0000"/><stop offset="0.3413" stop-color="#540000"/><stop offset="0.3620" stop-color="#400000"/><stop offset="0.3813" stop-color="#300000"/><stop offset="0.4012" stop-color="#220000"/><stop offset="0.4179" stop-color="#180000"/><stop offset="0.4333" stop-color="#100000"/><stop offset="0.4419" stop-color="#0c0000"/></radialGradient>
<radialGradient id="Cq28" gradientUnits="userSpaceOnUse" cx="1553.6" cy="174.5" r="200.0"><stop offset="0.0850" stop-color="#ffffb2"/><stop offset="0.0951" stop-color="#ffff8f"/><stop offset="0.1050" stop-color="#ffff6c"/><stop offset="0.1148" stop-color="#ffff49"/><stop offset="0.1248" stop-color="#ffff26"/><stop offset="0.1358" stop-color="#ffff00"/><stop offset="0.1496" stop-color="#ffd300"/><stop offset="0.1674" stop-color="#ff9d00"/><stop offset="0.1865" stop-color="#ff6800"/><stop offset="0.2074" stop-color="#ff3200"/><stop offset="0.2293" stop-color="#ff0000"/><stop offset="0.2507" stop-color="#d30000"/><stop offset="0.2693" stop-color="#b20000"/><stop offset="0.2903" stop-color="#900000"/><stop offset="0.3148" stop-color="#6f0000"/><stop offset="0.3381" stop-color="#540000"/><stop offset="0.3587" stop-color="#400000"/><stop offset="0.3780" stop-color="#300000"/><stop offset="0.3979" stop-color="#220000"/><stop offset="0.4146" stop-color="#180000"/><stop offset="0.4300" stop-color="#100000"/><stop offset="0.4386" stop-color="#0c0000"/></radialGradient>
<radialGradient id="Cq29" gradientUnits="userSpaceOnUse" cx="1553.6" cy="174.5" r="200.0"><stop offset="0.0836" stop-color="#ffffb2"/><stop offset="0.0935" stop-color="#ffff8f"/><stop offset="0.1033" stop-color="#ffff6c"/><stop offset="0.1130" stop-color="#ffff49"/><stop offset="0.1229" stop-color="#ffff26"/><stop offset="0.1337" stop-color="#ffff00"/><stop offset="0.1475" stop-color="#ffd300"/><stop offset="0.1650" stop-color="#ff9d00"/><stop offset="0.1840" stop-color="#ff6800"/><stop offset="0.2048" stop-color="#ff3200"/><stop offset="0.2266" stop-color="#ff0000"/><stop offset="0.2479" stop-color="#d30000"/><stop offset="0.2664" stop-color="#b20000"/><stop offset="0.2874" stop-color="#900000"/><stop offset="0.3118" stop-color="#6f0000"/><stop offset="0.3350" stop-color="#540000"/><stop offset="0.3556" stop-color="#400000"/><stop offset="0.3749" stop-color="#300000"/><stop offset="0.3948" stop-color="#220000"/><stop offset="0.4115" stop-color="#180000"/><stop offset="0.4269" stop-color="#100000"/><stop offset="0.4355" stop-color="#0c0000"/></radialGradient>
<radialGradient id="Cq30" gradientUnits="userSpaceOnUse" cx="1553.6" cy="174.5" r="200.0"><stop offset="0.0824" stop-color="#ffffb2"/><stop offset="0.0921" stop-color="#ffff8f"/><stop offset="0.1018" stop-color="#ffff6c"/><stop offset="0.1114" stop-color="#ffff49"/><stop offset="0.1211" stop-color="#ffff26"/><stop offset="0.1319" stop-color="#ffff00"/><stop offset="0.1455" stop-color="#ffd300"/><stop offset="0.1629" stop-color="#ff9d00"/><stop offset="0.1817" stop-color="#ff6800"/><stop offset="0.2024" stop-color="#ff3200"/><stop offset="0.2241" stop-color="#ff0000"/><stop offset="0.2453" stop-color="#d30000"/><stop offset="0.2637" stop-color="#b20000"/><stop offset="0.2846" stop-color="#900000"/><stop offset="0.3090" stop-color="#6f0000"/><stop offset="0.3322" stop-color="#540000"/><stop offset="0.3527" stop-color="#400000"/><stop offset="0.3721" stop-color="#300000"/><stop offset="0.3920" stop-color="#220000"/><stop offset="0.4086" stop-color="#180000"/><stop offset="0.4241" stop-color="#100000"/><stop offset="0.4327" stop-color="#0c0000"/></radialGradient>
<radialGradient id="Cq31" gradientUnits="userSpaceOnUse" cx="1553.6" cy="174.5" r="200.0"><stop offset="0.0812" stop-color="#ffffb2"/><stop offset="0.0908" stop-color="#ffff8f"/><stop offset="0.1003" stop-color="#ffff6c"/><stop offset="0.1099" stop-color="#ffff49"/><stop offset="0.1195" stop-color="#ffff26"/><stop offset="0.1302" stop-color="#ffff00"/><stop offset="0.1436" stop-color="#ffd300"/><stop offset="0.1609" stop-color="#ff9d00"/><stop offset="0.1796" stop-color="#ff6800"/><stop offset="0.2002" stop-color="#ff3200"/><stop offset="0.2218" stop-color="#ff0000"/><stop offset="0.2429" stop-color="#d30000"/><stop offset="0.2613" stop-color="#b20000"/><stop offset="0.2821" stop-color="#900000"/><stop offset="0.3064" stop-color="#6f0000"/><stop offset="0.3296" stop-color="#540000"/><stop offset="0.3501" stop-color="#400000"/><stop offset="0.3694" stop-color="#300000"/><stop offset="0.3893" stop-color="#220000"/><stop offset="0.4060" stop-color="#180000"/><stop offset="0.4214" stop-color="#100000"/><stop offset="0.4300" stop-color="#0c0000"/></radialGradient>
<radialGradient id="Cq32" gradientUnits="userSpaceOnUse" cx="1553.6" cy="174.5" r="200.0"><stop offset="0.0801" stop-color="#ffffb2"/><stop offset="0.0896" stop-color="#ffff8f"/><stop offset="0.0990" stop-color="#ffff6c"/><stop offset="0.1085" stop-color="#ffff49"/><stop offset="0.1180" stop-color="#ffff26"/><stop offset="0.1286" stop-color="#ffff00"/><stop offset="0.1419" stop-color="#ffd300"/><stop offset="0.1591" stop-color="#ff9d00"/><stop offset="0.1777" stop-color="#ff6800"/><stop offset="0.1982" stop-color="#ff3200"/><stop offset="0.2196" stop-color="#ff0000"/><stop offset="0.2407" stop-color="#d30000"/><stop offset="0.2590" stop-color="#b20000"/><stop offset="0.2798" stop-color="#900000"/><stop offset="0.3040" stop-color="#6f0000"/><stop offset="0.3271" stop-color="#540000"/><stop offset="0.3477" stop-color="#400000"/><stop offset="0.3670" stop-color="#300000"/><stop offset="0.3869" stop-color="#220000"/><stop offset="0.4036" stop-color="#180000"/><stop offset="0.4190" stop-color="#100000"/><stop offset="0.4276" stop-color="#0c0000"/></radialGradient>
<radialGradient id="Cq33" gradientUnits="userSpaceOnUse" cx="1553.6" cy="174.5" r="200.0"><stop offset="0.0791" stop-color="#ffffb2"/><stop offset="0.0885" stop-color="#ffff8f"/><stop offset="0.0979" stop-color="#ffff6c"/><stop offset="0.1072" stop-color="#ffff49"/><stop offset="0.1167" stop-color="#ffff26"/><stop offset="0.1271" stop-color="#ffff00"/><stop offset="0.1404" stop-color="#ffd300"/><stop offset="0.1575" stop-color="#ff9d00"/><stop offset="0.1759" stop-color="#ff6800"/><stop offset="0.1963" stop-color="#ff3200"/><stop offset="0.2177" stop-color="#ff0000"/><stop offset="0.2387" stop-color="#d30000"/><stop offset="0.2569" stop-color="#b20000"/><stop offset="0.2776" stop-color="#900000"/><stop offset="0.3019" stop-color="#6f0000"/><stop offset="0.3249" stop-color="#540000"/><stop offset="0.3454" stop-color="#400000"/><stop offset="0.3647" stop-color="#300000"/><stop offset="0.3846" stop-color="#220000"/><stop offset="0.4013" stop-color="#180000"/><stop offset="0.4168" stop-color="#100000"/><stop offset="0.4254" stop-color="#0c0000"/></radialGradient>
<radialGradient id="Cq34" gradientUnits="userSpaceOnUse" cx="1553.6" cy="174.5" r="200.0"><stop offset="0.0782" stop-color="#ffffb2"/><stop offset="0.0876" stop-color="#ffff8f"/><stop offset="0.0968" stop-color="#ffff6c"/><stop offset="0.1061" stop-color="#ffff49"/><stop offset="0.1154" stop-color="#ffff26"/><stop offset="0.1258" stop-color="#ffff00"/><stop offset="0.1390" stop-color="#ffd300"/><stop offset="0.1560" stop-color="#ff9d00"/><stop offset="0.1743" stop-color="#ff6800"/><stop offset="0.1946" stop-color="#ff3200"/><stop offset="0.2159" stop-color="#ff0000"/><stop offset="0.2368" stop-color="#d30000"/><stop offset="0.2550" stop-color="#b20000"/><stop offset="0.2757" stop-color="#900000"/><stop offset="0.2999" stop-color="#6f0000"/><stop offset="0.3229" stop-color="#540000"/><stop offset="0.3434" stop-color="#400000"/><stop offset="0.3627" stop-color="#300000"/><stop offset="0.3826" stop-color="#220000"/><stop offset="0.3993" stop-color="#180000"/><stop offset="0.4148" stop-color="#100000"/><stop offset="0.4234" stop-color="#0c0000"/></radialGradient>
<radialGradient id="Cq35" gradientUnits="userSpaceOnUse" cx="1553.6" cy="174.5" r="200.0"><stop offset="0.0774" stop-color="#ffffb2"/><stop offset="0.0867" stop-color="#ffff8f"/><stop offset="0.0958" stop-color="#ffff6c"/><stop offset="0.1050" stop-color="#ffff49"/><stop offset="0.1143" stop-color="#ffff26"/><stop offset="0.1247" stop-color="#ffff00"/><stop offset="0.1377" stop-color="#ffd300"/><stop offset="0.1546" stop-color="#ff9d00"/><stop offset="0.1729" stop-color="#ff6800"/><stop offset="0.1931" stop-color="#ff3200"/><stop offset="0.2143" stop-color="#ff0000"/><stop offset="0.2351" stop-color="#d30000"/><stop offset="0.2533" stop-color="#b20000"/><stop offset="0.2739" stop-color="#900000"/><stop offset="0.2981" stop-color="#6f0000"/><stop offset="0.3211" stop-color="#540000"/><stop offset="0.3416" stop-color="#400000"/><stop offset="0.3608" stop-color="#300000"/><stop offset="0.3807" stop-color="#220000"/><stop offset="0.3975" stop-color="#180000"/><stop offset="0.4129" stop-color="#100000"/><stop offset="0.4216" stop-color="#0c0000"/></radialGradient>
<radialGradient id="Cq36" gradientUnits="userSpaceOnUse" cx="1553.6" cy="174.5" r="200.0"><stop offset="0.0767" stop-color="#ffffb2"/><stop offset="0.0859" stop-color="#ffff8f"/><stop offset="0.0950" stop-color="#ffff6c"/><stop offset="0.1041" stop-color="#ffff49"/><stop offset="0.1134" stop-color="#ffff26"/><stop offset="0.1236" stop-color="#ffff00"/><stop offset="0.1366" stop-color="#ffd300"/><stop offset="0.1534" stop-color="#ff9d00"/><stop offset="0.1716" stop-color="#ff6800"/><stop offset="0.1917" stop-color="#ff3200"/><stop offset="0.2129" stop-color="#ff0000"/><stop offset="0.2336" stop-color="#d30000"/><stop offset="0.2517" stop-color="#b20000"/><stop offset="0.2723" stop-color="#900000"/><stop offset="0.2964" stop-color="#6f0000"/><stop offset="0.3194" stop-color="#540000"/><stop offset="0.3399" stop-color="#400000"/><stop offset="0.3592" stop-color="#300000"/><stop offset="0.3791" stop-color="#220000"/><stop offset="0.3958" stop-color="#180000"/><stop offset="0.4113" stop-color="#100000"/><stop offset="0.4199" stop-color="#0c0000"/></radialGradient>
<radialGradient id="Cq37" gradientUnits="userSpaceOnUse" cx="1553.6" cy="174.5" r="200.0"><stop offset="0.0760" stop-color="#ffffb2"/><stop offset="0.0852" stop-color="#ffff8f"/><stop offset="0.0942" stop-color="#ffff6c"/><stop offset="0.1033" stop-color="#ffff49"/><stop offset="0.1125" stop-color="#ffff26"/><stop offset="0.1227" stop-color="#ffff00"/><stop offset="0.1356" stop-color="#ffd300"/><stop offset="0.1523" stop-color="#ff9d00"/><stop offset="0.1705" stop-color="#ff6800"/><stop offset="0.1905" stop-color="#ff3200"/><stop offset="0.2116" stop-color="#ff0000"/><stop offset="0.2323" stop-color="#d30000"/><stop offset="0.2504" stop-color="#b20000"/><stop offset="0.2709" stop-color="#900000"/><stop offset="0.2950" stop-color="#6f0000"/><stop offset="0.3180" stop-color="#540000"/><stop offset="0.3384" stop-color="#400000"/><stop offset="0.3577" stop-color="#300000"/><stop offset="0.3776" stop-color="#220000"/><stop offset="0.3943" stop-color="#180000"/><stop offset="0.4098" stop-color="#100000"/><stop offset="0.4185" stop-color="#0c0000"/></radialGradient>
<radialGradient id="Cq38" gradientUnits="userSpaceOnUse" cx="1553.6" cy="174.5" r="200.0"><stop offset="0.0755" stop-color="#ffffb2"/><stop offset="0.0846" stop-color="#ffff8f"/><stop offset="0.0935" stop-color="#ffff6c"/><stop offset="0.1026" stop-color="#ffff49"/><stop offset="0.1117" stop-color="#ffff26"/><stop offset="0.1218" stop-color="#ffff00"/><stop offset="0.1347" stop-color="#ffd300"/><stop offset="0.1514" stop-color="#ff9d00"/><stop offset="0.1694" stop-color="#ff6800"/><stop offset="0.1894" stop-color="#ff3200"/><stop offset="0.2104" stop-color="#ff0000"/><stop offset="0.2311" stop-color="#d30000"/><stop offset="0.2492" stop-color="#b20000"/><stop offset="0.2697" stop-color="#900000"/><stop offset="0.2937" stop-color="#6f0000"/><stop offset="0.3167" stop-color="#540000"/><stop offset="0.3371" stop-color="#400000"/><stop offset="0.3564" stop-color="#300000"/><stop offset="0.3763" stop-color="#220000"/><stop offset="0.3930" stop-color="#180000"/><stop offset="0.4085" stop-color="#100000"/><stop offset="0.4172" stop-color="#0c0000"/></radialGradient>
<radialGradient id="Cq39" gradientUnits="userSpaceOnUse" cx="1553.6" cy="174.5" r="200.0"><stop offset="0.0750" stop-color="#ffffb2"/><stop offset="0.0840" stop-color="#ffff8f"/><stop offset="0.0930" stop-color="#ffff6c"/><stop offset="0.1019" stop-color="#ffff49"/><stop offset="0.1111" stop-color="#ffff26"/><stop offset="0.1211" stop-color="#ffff00"/><stop offset="0.1340" stop-color="#ffd300"/><stop offset="0.1506" stop-color="#ff9d00"/><stop offset="0.1686" stop-color="#ff6800"/><stop offset="0.1885" stop-color="#ff3200"/><stop offset="0.2095" stop-color="#ff0000"/><stop offset="0.2301" stop-color="#d30000"/><stop offset="0.2481" stop-color="#b20000"/><stop offset="0.2686" stop-color="#900000"/><stop offset="0.2926" stop-color="#6f0000"/><stop offset="0.3156" stop-color="#540000"/><stop offset="0.3360" stop-color="#400000"/><stop offset="0.3553" stop-color="#300000"/><stop offset="0.3752" stop-color="#220000"/><stop offset="0.3919" stop-color="#180000"/><stop offset="0.4074" stop-color="#100000"/><stop offset="0.4161" stop-color="#0c0000"/></radialGradient>
<radialGradient id="Cq40" gradientUnits="userSpaceOnUse" cx="1553.6" cy="174.5" r="200.0"><stop offset="0.0746" stop-color="#ffffb2"/><stop offset="0.0836" stop-color="#ffff8f"/><stop offset="0.0925" stop-color="#ffff6c"/><stop offset="0.1014" stop-color="#ffff49"/><stop offset="0.1105" stop-color="#ffff26"/><stop offset="0.1206" stop-color="#ffff00"/><stop offset="0.1334" stop-color="#ffd300"/><stop offset="0.1499" stop-color="#ff9d00"/><stop offset="0.1678" stop-color="#ff6800"/><stop offset="0.1877" stop-color="#ff3200"/><stop offset="0.2087" stop-color="#ff0000"/><stop offset="0.2293" stop-color="#d30000"/><stop offset="0.2472" stop-color="#b20000"/><stop offset="0.2677" stop-color="#900000"/><stop offset="0.2917" stop-color="#6f0000"/><stop offset="0.3146" stop-color="#540000"/><stop offset="0.3351" stop-color="#400000"/><stop offset="0.3543" stop-color="#300000"/><stop offset="0.3742" stop-color="#220000"/><stop offset="0.3910" stop-color="#180000"/><stop offset="0.4065" stop-color="#100000"/><stop offset="0.4152" stop-color="#0c0000"/></radialGradient>
<radialGradient id="Cq41" gradientUnits="userSpaceOnUse" cx="1553.6" cy="174.5" r="200.0"><stop offset="0.0743" stop-color="#ffffb2"/><stop offset="0.0832" stop-color="#ffff8f"/><stop offset="0.0921" stop-color="#ffff6c"/><stop offset="0.1010" stop-color="#ffff49"/><stop offset="0.1100" stop-color="#ffff26"/><stop offset="0.1201" stop-color="#ffff00"/><stop offset="0.1328" stop-color="#ffd300"/><stop offset="0.1493" stop-color="#ff9d00"/><stop offset="0.1673" stop-color="#ff6800"/><stop offset="0.1871" stop-color="#ff3200"/><stop offset="0.2080" stop-color="#ff0000"/><stop offset="0.2286" stop-color="#d30000"/><stop offset="0.2465" stop-color="#b20000"/><stop offset="0.2670" stop-color="#900000"/><stop offset="0.2910" stop-color="#6f0000"/><stop offset="0.3139" stop-color="#540000"/><stop offset="0.3343" stop-color="#400000"/><stop offset="0.3536" stop-color="#300000"/><stop offset="0.3735" stop-color="#220000"/><stop offset="0.3902" stop-color="#180000"/><stop offset="0.4057" stop-color="#100000"/><stop offset="0.4144" stop-color="#0c0000"/></radialGradient>
<radialGradient id="Cq42" gradientUnits="userSpaceOnUse" cx="1553.6" cy="174.5" r="200.0"><stop offset="0.0740" stop-color="#ffffb2"/><stop offset="0.0830" stop-color="#ffff8f"/><stop offset="0.0918" stop-color="#ffff6c"/><stop offset="0.1007" stop-color="#ffff49"/><stop offset="0.1097" stop-color="#ffff26"/><stop offset="0.1197" stop-color="#ffff00"/><stop offset="0.1324" stop-color="#ffd300"/><stop offset="0.1489" stop-color="#ff9d00"/><stop offset="0.1668" stop-color="#ff6800"/><stop offset="0.1866" stop-color="#ff3200"/><stop offset="0.2075" stop-color="#ff0000"/><stop offset="0.2280" stop-color="#d30000"/><stop offset="0.2460" stop-color="#b20000"/><stop offset="0.2664" stop-color="#900000"/><stop offset="0.2904" stop-color="#6f0000"/><stop offset="0.3133" stop-color="#540000"/><stop offset="0.3337" stop-color="#400000"/><stop offset="0.3530" stop-color="#300000"/><stop offset="0.3729" stop-color="#220000"/><stop offset="0.3896" stop-color="#180000"/><stop offset="0.4052" stop-color="#100000"/><stop offset="0.4138" stop-color="#0c0000"/></radialGradient>
<radialGradient id="Cq43" gradientUnits="userSpaceOnUse" cx="1553.6" cy="174.5" r="200.0"><stop offset="0.0739" stop-color="#ffffb2"/><stop offset="0.0828" stop-color="#ffff8f"/><stop offset="0.0916" stop-color="#ffff6c"/><stop offset="0.1004" stop-color="#ffff49"/><stop offset="0.1095" stop-color="#ffff26"/><stop offset="0.1194" stop-color="#ffff00"/><stop offset="0.1322" stop-color="#ffd300"/><stop offset="0.1486" stop-color="#ff9d00"/><stop offset="0.1665" stop-color="#ff6800"/><stop offset="0.1862" stop-color="#ff3200"/><stop offset="0.2071" stop-color="#ff0000"/><stop offset="0.2277" stop-color="#d30000"/><stop offset="0.2456" stop-color="#b20000"/><stop offset="0.2660" stop-color="#900000"/><stop offset="0.2900" stop-color="#6f0000"/><stop offset="0.3129" stop-color="#540000"/><stop offset="0.3333" stop-color="#400000"/><stop offset="0.3525" stop-color="#300000"/><stop offset="0.3725" stop-color="#220000"/><stop offset="0.3892" stop-color="#180000"/><stop offset="0.4047" stop-color="#100000"/><stop offset="0.4134" stop-color="#0c0000"/></radialGradient>
<radialGradient id="Cq44" gradientUnits="userSpaceOnUse" cx="1553.6" cy="174.5" r="200.0"><stop offset="0.0738" stop-color="#ffffb2"/><stop offset="0.0826" stop-color="#ffff8f"/><stop offset="0.0915" stop-color="#ffff6c"/><stop offset="0.1003" stop-color="#ffff49"/><stop offset="0.1093" stop-color="#ffff26"/><stop offset="0.1193" stop-color="#ffff00"/><stop offset="0.1320" stop-color="#ffd300"/><stop offset="0.1484" stop-color="#ff9d00"/><stop offset="0.1663" stop-color="#ff6800"/><stop offset="0.1860" stop-color="#ff3200"/><stop offset="0.2069" stop-color="#ff0000"/><stop offset="0.2274" stop-color="#d30000"/><stop offset="0.2453" stop-color="#b20000"/><stop offset="0.2658" stop-color="#900000"/><stop offset="0.2897" stop-color="#6f0000"/><stop offset="0.3126" stop-color="#540000"/><stop offset="0.3330" stop-color="#400000"/><stop offset="0.3523" stop-color="#300000"/><stop offset="0.3722" stop-color="#220000"/><stop offset="0.3890" stop-color="#180000"/><stop offset="0.4045" stop-color="#100000"/><stop offset="0.4132" stop-color="#0c0000"/></radialGradient>
<radialGradient id="Cq45" gradientUnits="userSpaceOnUse" cx="1553.6" cy="174.5" r="200.0"><stop offset="0.0737" stop-color="#ffffb2"/><stop offset="0.0826" stop-color="#ffff8f"/><stop offset="0.0914" stop-color="#ffff6c"/><stop offset="0.1003" stop-color="#ffff49"/><stop offset="0.1093" stop-color="#ffff26"/><stop offset="0.1192" stop-color="#ffff00"/><stop offset="0.1319" stop-color="#ffd300"/><stop offset="0.1483" stop-color="#ff9d00"/><stop offset="0.1662" stop-color="#ff6800"/><stop offset="0.1860" stop-color="#ff3200"/><stop offset="0.2068" stop-color="#ff0000"/><stop offset="0.2274" stop-color="#d30000"/><stop offset="0.2453" stop-color="#b20000"/><stop offset="0.2657" stop-color="#900000"/><stop offset="0.2896" stop-color="#6f0000"/><stop offset="0.3125" stop-color="#540000"/><stop offset="0.3330" stop-color="#400000"/><stop offset="0.3522" stop-color="#300000"/><stop offset="0.3721" stop-color="#220000"/><stop offset="0.3889" stop-color="#180000"/><stop offset="0.4044" stop-color="#100000"/><stop offset="0.4131" stop-color="#0c0000"/></radialGradient>
<linearGradient id="dl" x1="0" x2="1" y1="0" y2="0"><stop offset="0" stop-color="#ff0300"/><stop offset="0.035" stop-color="#ff7c00"/><stop offset="0.08" stop-color="#ffff04"/><stop offset="0.22" stop-color="#ffff36"/><stop offset="0.32" stop-color="#ffffaf"/><stop offset="0.4" stop-color="#ffffff"/><stop offset="0.55" stop-color="#ffffff"/><stop offset="0.64" stop-color="#ffffaf"/><stop offset="0.75" stop-color="#ffff4a"/><stop offset="0.9" stop-color="#ffff0e"/><stop offset="0.955" stop-color="#ff7c00"/><stop offset="1" stop-color="#ff0300"/></linearGradient>
<filter id="dblur" x="-5%" y="-200%" width="110%" height="500%"><feGaussianBlur stdDeviation="0 1.8"/></filter>
</defs>
<rect x="0" y="0" width="2100" height="680" fill="#fff"/>
<path d="M142.1 562.4H161.6M161.6 562.4V581.9M151.6 508.0H161.6M235.0 562.4V572.4M142.1 453.5H161.6M308.3 562.4V581.9M151.6 399.1H161.6M381.7 562.4V572.4M142.1 344.6H161.6M455.1 562.4V581.9M151.6 290.2H161.6M528.4 562.4V572.4M142.1 235.8H161.6M601.8 562.4V581.9M151.6 181.3H161.6M675.2 562.4V572.4M142.1 126.9H161.6M748.6 562.4V581.9M151.6 72.4H161.6M821.9 562.4V572.4M142.1 18.0H161.6M895.3 562.4V581.9" stroke="#000" stroke-width="2" fill="none"/>
<rect x="161.6" y="18.0" width="733.7" height="544.4" fill="none" stroke="#000" stroke-width="2.2"/>
<text transform="translate(124.5,574.7) scale(0.97,1)" text-anchor="end" class="t tk">0</text>
<text transform="translate(161.6,625.3) scale(0.97,1)" text-anchor="middle" class="t tk">0</text>
<text transform="translate(124.5,465.8) scale(0.97,1)" text-anchor="end" class="t tk">0.2</text>
<text transform="translate(308.3,625.3) scale(0.97,1)" text-anchor="middle" class="t tk">0.2</text>
<text transform="translate(124.5,356.9) scale(0.97,1)" text-anchor="end" class="t tk">0.4</text>
<text transform="translate(455.1,625.3) scale(0.97,1)" text-anchor="middle" class="t tk">0.4</text>
<text transform="translate(124.5,248.1) scale(0.97,1)" text-anchor="end" class="t tk">0.6</text>
<text transform="translate(601.8,625.3) scale(0.97,1)" text-anchor="middle" class="t tk">0.6</text>
<text transform="translate(124.5,139.2) scale(0.97,1)" text-anchor="end" class="t tk">0.8</text>
<text transform="translate(748.6,625.3) scale(0.97,1)" text-anchor="middle" class="t tk">0.8</text>
<text transform="translate(124.5,30.3) scale(0.97,1)" text-anchor="end" class="t tk">1.0</text>
<text transform="translate(895.3,625.3) scale(0.97,1)" text-anchor="middle" class="t tk">1.0</text>
<text transform="translate(391.9,672.9) scale(1.0207,1)" class="t">Disorder level &#916;<tspan font-style="italic">C</tspan></text>
<text transform="translate(41.5,493.5) rotate(-90)" class="t" style="font-size:35px">Circularity coefficient <tspan style="font-family:'Liberation Serif',serif;font-style:italic;font-weight:bold;font-size:37px;stroke:none">o</tspan><tspan style="font-family:'Liberation Serif',serif;font-style:italic;font-size:26px;stroke:none" dy="6">x</tspan><tspan style="font-family:'Liberation Serif',serif;font-size:41px;stroke:none" dy="-6" dx="2.2">(</tspan><tspan style="font-family:'Liberation Serif',serif;font-style:italic;font-size:40px;stroke:none">z</tspan><tspan style="font-family:'Liberation Serif',serif;font-size:41px;stroke:none">)</tspan></text>
<text x="5" y="28.3" class="bl">a</text>
<text transform="translate(179.6,62) scale(1.035,1)" class="t">Off-diagonal disorder</text>
<text transform="translate(212.7,114.2) scale(1.029,1)" class="t"><tspan font-style="italic">N</tspan><tspan style="font-size:24px" dy="9">t</tspan><tspan dy="-9">=23, </tspan><tspan font-style="italic">x</tspan>=0, <tspan font-style="italic">z</tspan>=50</text>
<polyline points="308.3,477.0 323.0,447.5 337.7,428.5 352.4,409.4 367.0,402.2 381.7,391.9 396.4,389.4 411.1,383.7 425.7,376.5 440.4,380.0 455.1,370.3 469.8,368.4 484.4,348.3 499.1,331.8 513.8,333.7 528.4,317.8 543.1,291.3 557.8,271.0 572.5,260.9 587.1,239.2 601.8,223.8 616.5,207.5 631.2,179.5 645.8,169.7 660.5,153.3 675.2,138.0 689.9,125.3 704.5,113.6 719.2,101.4 733.9,90.8 748.6,82.9 763.2,72.3 777.9,66.5 792.6,56.0 807.3,56.0 821.9,46.8 836.6,44.1 851.3,37.9 866.0,33.5 880.6,31.6 895.3,28.7" fill="none" stroke="#0a00e6" stroke-width="5" stroke-linejoin="round"/>
<circle cx="309.1" cy="478.0" r="17" fill="none" stroke="#000" stroke-width="1.6" stroke-dasharray="3.2 3.2"/>
<circle cx="528.8" cy="318.3" r="17" fill="none" stroke="#000" stroke-width="1.6" stroke-dasharray="3.2 3.2"/>
<circle cx="894.0" cy="30.1" r="17" fill="none" stroke="#000" stroke-width="1.6" stroke-dasharray="3.2 3.2"/>
<text x="318" y="523.8" class="bl">b</text>
<text x="539.5" y="361" class="bl">c</text>
<text x="859.5" y="75" class="bl">d</text>
<g transform="translate(-6,7)" filter="url(#shd)" opacity="0.6"><polygon points="324.0,135.1 368.8,151.4 392.6,192.7 384.4,239.7 347.8,270.3 300.2,270.3 263.6,239.7 255.4,192.7 279.2,151.4" fill="none" stroke="#555" stroke-width="3.5"/><circle cx="324.0" cy="135.1" r="7" fill="#555"/><circle cx="368.8" cy="151.4" r="7" fill="#555"/><circle cx="392.6" cy="192.7" r="7" fill="#555"/><circle cx="384.4" cy="239.7" r="7" fill="#555"/><circle cx="347.8" cy="270.3" r="7" fill="#555"/><circle cx="300.2" cy="270.3" r="7" fill="#555"/><circle cx="263.6" cy="239.7" r="7" fill="#555"/><circle cx="255.4" cy="192.7" r="7" fill="#555"/><circle cx="279.2" cy="151.4" r="7" fill="#555"/></g>
<polygon points="324.0,135.1 368.8,151.4 392.6,192.7 384.4,239.7 347.8,270.3 300.2,270.3 263.6,239.7 255.4,192.7 279.2,151.4" fill="none" stroke="#e00a0a" stroke-width="2.5"/>
<circle cx="324.0" cy="135.1" r="6.2" fill="url(#ball)" stroke="#fff" stroke-width="1"/>
<circle cx="368.8" cy="151.4" r="6.2" fill="url(#ball)" stroke="#fff" stroke-width="1"/>
<circle cx="392.6" cy="192.7" r="6.2" fill="url(#ball)" stroke="#fff" stroke-width="1"/>
<circle cx="384.4" cy="239.7" r="6.2" fill="url(#ball)" stroke="#fff" stroke-width="1"/>
<circle cx="347.8" cy="270.3" r="6.2" fill="url(#ball)" stroke="#fff" stroke-width="1"/>
<circle cx="300.2" cy="270.3" r="6.2" fill="url(#ball)" stroke="#fff" stroke-width="1"/>
<circle cx="263.6" cy="239.7" r="6.2" fill="url(#ball)" stroke="#fff" stroke-width="1"/>
<circle cx="255.4" cy="192.7" r="6.2" fill="url(#ball)" stroke="#fff" stroke-width="1"/>
<circle cx="279.2" cy="151.4" r="6.2" fill="url(#ball)" stroke="#fff" stroke-width="1"/>
<rect x="1020.0" y="22.0" width="304.2" height="304.3" fill="#0b0000"/>
<path d="M1020.0 22.5h304.2" stroke="#000" stroke-width="1"/>
<rect x="1400.4" y="22.0" width="304.2" height="304.3" fill="#0b0000"/>
<path d="M1400.4 22.5h304.2" stroke="#000" stroke-width="1"/>
<rect x="1781.2" y="22.0" width="304.2" height="304.3" fill="#0b0000"/>
<path d="M1781.2 22.5h304.2" stroke="#000" stroke-width="1"/>
<g clip-path="url(#clipB)"><circle cx="1172.8" cy="178.5" r="200.0" fill="url(#Bq45)"/><path d="M1172.8 178.5L1432.6 188.5L1432.6 168.5Z" fill="url(#Bq0)"/><path d="M1172.8 178.5L1432.8 179.4L1432.1 159.5Z" fill="url(#Bq1)"/><path d="M1172.8 178.5L1432.7 170.3L1431.3 150.4Z" fill="url(#Bq2)"/><path d="M1172.8 178.5L1432.2 161.3L1430.1 141.4Z" fill="url(#Bq3)"/><path d="M1172.8 178.5L1431.5 152.2L1428.7 132.5Z" fill="url(#Bq4)"/><path d="M1172.8 178.5L1430.4 143.2L1426.9 123.6Z" fill="url(#Bq5)"/><path d="M1172.8 178.5L1429.0 134.2L1424.9 114.7Z" fill="url(#Bq6)"/><path d="M1172.8 178.5L1427.3 125.3L1422.5 106.0Z" fill="url(#Bq7)"/><path d="M1172.8 178.5L1425.3 116.5L1419.8 97.3Z" fill="url(#Bq8)"/><path d="M1172.8 178.5L1423.0 107.7L1416.8 88.7Z" fill="url(#Bq9)"/><path d="M1172.8 178.5L1420.4 99.0L1413.5 80.3Z" fill="url(#Bq10)"/><path d="M1172.8 178.5L1417.4 90.4L1410.0 71.9Z" fill="url(#Bq11)"/><path d="M1172.8 178.5L1414.2 81.9L1406.1 63.7Z" fill="url(#Bq12)"/><path d="M1172.8 178.5L1410.7 73.6L1401.9 55.6Z" fill="url(#Bq13)"/><path d="M1172.8 178.5L1406.9 65.3L1397.5 47.7Z" fill="url(#Bq14)"/><path d="M1172.8 178.5L1402.8 57.2L1392.8 40.0Z" fill="url(#Bq15)"/><path d="M1172.8 178.5L1398.4 49.3L1387.8 32.4Z" fill="url(#Bq16)"/><path d="M1172.8 178.5L1393.8 41.5L1382.6 24.9Z" fill="url(#Bq17)"/><path d="M1172.8 178.5L1388.9 33.9L1377.1 17.7Z" fill="url(#Bq18)"/><path d="M1172.8 178.5L1383.7 26.4L1371.4 10.7Z" fill="url(#Bq19)"/><path d="M1172.8 178.5L1378.2 19.1L1365.4 3.9Z" fill="url(#Bq20)"/><path d="M1172.8 178.5L1372.6 12.1L1359.2 -2.8Z" fill="url(#Bq21)"/><path d="M1172.8 178.5L1366.6 5.2L1352.8 -9.2Z" fill="url(#Bq22)"/><path d="M1172.8 178.5L1360.5 -1.5L1346.1 -15.3Z" fill="url(#Bq23)"/><path d="M1172.8 178.5L1354.1 -7.9L1339.2 -21.3Z" fill="url(#Bq24)"/><path d="M1172.8 178.5L1347.4 -14.1L1332.2 -26.9Z" fill="url(#Bq25)"/><path d="M1172.8 178.5L1340.6 -20.1L1324.9 -32.4Z" fill="url(#Bq26)"/><path d="M1172.8 178.5L1333.6 -25.8L1317.4 -37.6Z" fill="url(#Bq27)"/><path d="M1172.8 178.5L1326.4 -31.3L1309.8 -42.5Z" fill="url(#Bq28)"/><path d="M1172.8 178.5L1318.9 -36.5L1302.0 -47.1Z" fill="url(#Bq29)"/><path d="M1172.8 178.5L1311.3 -41.5L1294.1 -51.5Z" fill="url(#Bq30)"/><path d="M1172.8 178.5L1303.6 -46.2L1286.0 -55.6Z" fill="url(#Bq31)"/><path d="M1172.8 178.5L1295.7 -50.6L1277.7 -59.4Z" fill="url(#Bq32)"/><path d="M1172.8 178.5L1287.6 -54.8L1269.4 -62.9Z" fill="url(#Bq33)"/><path d="M1172.8 178.5L1279.4 -58.7L1260.9 -66.1Z" fill="url(#Bq34)"/><path d="M1172.8 178.5L1271.0 -62.2L1252.3 -69.1Z" fill="url(#Bq35)"/><path d="M1172.8 178.5L1262.6 -65.5L1243.6 -71.7Z" fill="url(#Bq36)"/><path d="M1172.8 178.5L1254.0 -68.5L1234.8 -74.0Z" fill="url(#Bq37)"/><path d="M1172.8 178.5L1245.3 -71.2L1226.0 -76.0Z" fill="url(#Bq38)"/><path d="M1172.8 178.5L1236.6 -73.6L1217.1 -77.7Z" fill="url(#Bq39)"/><path d="M1172.8 178.5L1227.7 -75.6L1208.1 -79.1Z" fill="url(#Bq40)"/><path d="M1172.8 178.5L1218.8 -77.4L1199.1 -80.2Z" fill="url(#Bq41)"/><path d="M1172.8 178.5L1209.9 -78.8L1190.0 -80.9Z" fill="url(#Bq42)"/><path d="M1172.8 178.5L1200.9 -80.0L1181.0 -81.4Z" fill="url(#Bq43)"/><path d="M1172.8 178.5L1191.8 -80.8L1171.9 -81.5Z" fill="url(#Bq44)"/><path d="M1172.8 178.5L1182.8 -81.3L1162.8 -81.3Z" fill="url(#Bq45)"/><path d="M1172.8 178.5L1173.7 -81.5L1153.8 -80.8Z" fill="url(#Bq44)"/><path d="M1172.8 178.5L1164.6 -81.4L1144.7 -80.0Z" fill="url(#Bq43)"/><path d="M1172.8 178.5L1155.6 -80.9L1135.7 -78.8Z" fill="url(#Bq42)"/><path d="M1172.8 178.5L1146.5 -80.2L1126.8 -77.4Z" fill="url(#Bq41)"/><path d="M1172.8 178.5L1137.5 -79.1L1117.9 -75.6Z" fill="url(#Bq40)"/><path d="M1172.8 178.5L1128.5 -77.7L1109.0 -73.6Z" fill="url(#Bq39)"/><path d="M1172.8 178.5L1119.6 -76.0L1100.3 -71.2Z" fill="url(#Bq38)"/><path d="M1172.8 178.5L1110.8 -74.0L1091.6 -68.5Z" fill="url(#Bq37)"/><path d="M1172.8 178.5L1102.0 -71.7L1083.0 -65.5Z" fill="url(#Bq36)"/><path d="M1172.8 178.5L1093.3 -69.1L1074.6 -62.2Z" fill="url(#Bq35)"/><path d="M1172.8 178.5L1084.7 -66.1L1066.2 -58.7Z" fill="url(#Bq34)"/><path d="M1172.8 178.5L1076.2 -62.9L1058.0 -54.8Z" fill="url(#Bq33)"/><path d="M1172.8 178.5L1067.9 -59.4L1049.9 -50.6Z" fill="url(#Bq32)"/><path d="M1172.8 178.5L1059.6 -55.6L1042.0 -46.2Z" fill="url(#Bq31)"/><path d="M1172.8 178.5L1051.5 -51.5L1034.3 -41.5Z" fill="url(#Bq30)"/><path d="M1172.8 178.5L1043.6 -47.1L1026.7 -36.5Z" fill="url(#Bq29)"/><path d="M1172.8 178.5L1035.8 -42.5L1019.2 -31.3Z" fill="url(#Bq28)"/><path d="M1172.8 178.5L1028.2 -37.6L1012.0 -25.8Z" fill="url(#Bq27)"/><path d="M1172.8 178.5L1020.7 -32.4L1005.0 -20.1Z" fill="url(#Bq26)"/><path d="M1172.8 178.5L1013.4 -26.9L998.2 -14.1Z" fill="url(#Bq25)"/><path d="M1172.8 178.5L1006.4 -21.3L991.5 -7.9Z" fill="url(#Bq24)"/><path d="M1172.8 178.5L999.5 -15.3L985.1 -1.5Z" fill="url(#Bq23)"/><path d="M1172.8 178.5L992.8 -9.2L979.0 5.2Z" fill="url(#Bq22)"/><path d="M1172.8 178.5L986.4 -2.8L973.0 12.1Z" fill="url(#Bq21)"/><path d="M1172.8 178.5L980.2 3.9L967.4 19.1Z" fill="url(#Bq20)"/><path d="M1172.8 178.5L974.2 10.7L961.9 26.4Z" fill="url(#Bq19)"/><path d="M1172.8 178.5L968.5 17.7L956.7 33.9Z" fill="url(#Bq18)"/><path d="M1172.8 178.5L963.0 24.9L951.8 41.5Z" fill="url(#Bq17)"/><path d="M1172.8 178.5L957.8 32.4L947.2 49.3Z" fill="url(#Bq16)"/><path d="M1172.8 178.5L952.8 40.0L942.8 57.2Z" fill="url(#Bq15)"/><path d="M1172.8 178.5L948.1 47.7L938.7 65.3Z" fill="url(#Bq14)"/><path d="M1172.8 178.5L943.7 55.6L934.9 73.6Z" fill="url(#Bq13)"/><path d="M1172.8 178.5L939.5 63.7L931.4 81.9Z" fill="url(#Bq12)"/><path d="M1172.8 178.5L935.6 71.9L928.2 90.4Z" fill="url(#Bq11)"/><path d="M1172.8 178.5L932.1 80.3L925.2 99.0Z" fill="url(#Bq10)"/><path d="M1172.8 178.5L928.8 88.7L922.6 107.7Z" fill="url(#Bq9)"/><path d="M1172.8 178.5L925.8 97.3L920.3 116.5Z" fill="url(#Bq8)"/><path d="M1172.8 178.5L923.1 106.0L918.3 125.3Z" fill="url(#Bq7)"/><path d="M1172.8 178.5L920.7 114.7L916.6 134.2Z" fill="url(#Bq6)"/><path d="M1172.8 178.5L918.7 123.6L915.2 143.2Z" fill="url(#Bq5)"/><path d="M1172.8 178.5L916.9 132.5L914.1 152.2Z" fill="url(#Bq4)"/><path d="M1172.8 178.5L915.5 141.4L913.4 161.3Z" fill="url(#Bq3)"/><path d="M1172.8 178.5L914.3 150.4L912.9 170.3Z" fill="url(#Bq2)"/><path d="M1172.8 178.5L913.5 159.5L912.8 179.4Z" fill="url(#Bq1)"/><path d="M1172.8 178.5L913.0 168.5L913.0 188.5Z" fill="url(#Bq0)"/><path d="M1172.8 178.5L912.8 177.6L913.5 197.5Z" fill="url(#Bq1)"/><path d="M1172.8 178.5L912.9 186.7L914.3 206.6Z" fill="url(#Bq2)"/><path d="M1172.8 178.5L913.4 195.7L915.5 215.6Z" fill="url(#Bq3)"/><path d="M1172.8 178.5L914.1 204.8L916.9 224.5Z" fill="url(#Bq4)"/><path d="M1172.8 178.5L915.2 213.8L918.7 233.4Z" fill="url(#Bq5)"/><path d="M1172.8 178.5L916.6 222.8L920.7 242.3Z" fill="url(#Bq6)"/><path d="M1172.8 178.5L918.3 231.7L923.1 251.0Z" fill="url(#Bq7)"/><path d="M1172.8 178.5L920.3 240.5L925.8 259.7Z" fill="url(#Bq8)"/><path d="M1172.8 178.5L922.6 249.3L928.8 268.3Z" fill="url(#Bq9)"/><path d="M1172.8 178.5L925.2 258.0L932.1 276.7Z" fill="url(#Bq10)"/><path d="M1172.8 178.5L928.2 266.6L935.6 285.1Z" fill="url(#Bq11)"/><path d="M1172.8 178.5L931.4 275.1L939.5 293.3Z" fill="url(#Bq12)"/><path d="M1172.8 178.5L934.9 283.4L943.7 301.4Z" fill="url(#Bq13)"/><path d="M1172.8 178.5L938.7 291.7L948.1 309.3Z" fill="url(#Bq14)"/><path d="M1172.8 178.5L942.8 299.8L952.8 317.0Z" fill="url(#Bq15)"/><path d="M1172.8 178.5L947.2 307.7L957.8 324.6Z" fill="url(#Bq16)"/><path d="M1172.8 178.5L951.8 315.5L963.0 332.1Z" fill="url(#Bq17)"/><path d="M1172.8 178.5L956.7 323.1L968.5 339.3Z" fill="url(#Bq18)"/><path d="M1172.8 178.5L961.9 330.6L974.2 346.3Z" fill="url(#Bq19)"/><path d="M1172.8 178.5L967.4 337.9L980.2 353.1Z" fill="url(#Bq20)"/><path d="M1172.8 178.5L973.0 344.9L986.4 359.8Z" fill="url(#Bq21)"/><path d="M1172.8 178.5L979.0 351.8L992.8 366.2Z" fill="url(#Bq22)"/><path d="M1172.8 178.5L985.1 358.5L999.5 372.3Z" fill="url(#Bq23)"/><path d="M1172.8 178.5L991.5 364.9L1006.4 378.3Z" fill="url(#Bq24)"/><path d="M1172.8 178.5L998.2 371.1L1013.4 383.9Z" fill="url(#Bq25)"/><path d="M1172.8 178.5L1005.0 377.1L1020.7 389.4Z" fill="url(#Bq26)"/><path d="M1172.8 178.5L1012.0 382.8L1028.2 394.6Z" fill="url(#Bq27)"/><path d="M1172.8 178.5L1019.2 388.3L1035.8 399.5Z" fill="url(#Bq28)"/><path d="M1172.8 178.5L1026.7 393.5L1043.6 404.1Z" fill="url(#Bq29)"/><path d="M1172.8 178.5L1034.3 398.5L1051.5 408.5Z" fill="url(#Bq30)"/><path d="M1172.8 178.5L1042.0 403.2L1059.6 412.6Z" fill="url(#Bq31)"/><path d="M1172.8 178.5L1049.9 407.6L1067.9 416.4Z" fill="url(#Bq32)"/><path d="M1172.8 178.5L1058.0 411.8L1076.2 419.9Z" fill="url(#Bq33)"/><path d="M1172.8 178.5L1066.2 415.7L1084.7 423.1Z" fill="url(#Bq34)"/><path d="M1172.8 178.5L1074.6 419.2L1093.3 426.1Z" fill="url(#Bq35)"/><path d="M1172.8 178.5L1083.0 422.5L1102.0 428.7Z" fill="url(#Bq36)"/><path d="M1172.8 178.5L1091.6 425.5L1110.8 431.0Z" fill="url(#Bq37)"/><path d="M1172.8 178.5L1100.3 428.2L1119.6 433.0Z" fill="url(#Bq38)"/><path d="M1172.8 178.5L1109.0 430.6L1128.5 434.7Z" fill="url(#Bq39)"/><path d="M1172.8 178.5L1117.9 432.6L1137.5 436.1Z" fill="url(#Bq40)"/><path d="M1172.8 178.5L1126.8 434.4L1146.5 437.2Z" fill="url(#Bq41)"/><path d="M1172.8 178.5L1135.7 435.8L1155.6 437.9Z" fill="url(#Bq42)"/><path d="M1172.8 178.5L1144.7 437.0L1164.6 438.4Z" fill="url(#Bq43)"/><path d="M1172.8 178.5L1153.8 437.8L1173.7 438.5Z" fill="url(#Bq44)"/><path d="M1172.8 178.5L1162.8 438.3L1182.8 438.3Z" fill="url(#Bq45)"/><path d="M1172.8 178.5L1171.9 438.5L1191.8 437.8Z" fill="url(#Bq44)"/><path d="M1172.8 178.5L1181.0 438.4L1200.9 437.0Z" fill="url(#Bq43)"/><path d="M1172.8 178.5L1190.0 437.9L1209.9 435.8Z" fill="url(#Bq42)"/><path d="M1172.8 178.5L1199.1 437.2L1218.8 434.4Z" fill="url(#Bq41)"/><path d="M1172.8 178.5L1208.1 436.1L1227.7 432.6Z" fill="url(#Bq40)"/><path d="M1172.8 178.5L1217.1 434.7L1236.6 430.6Z" fill="url(#Bq39)"/><path d="M1172.8 178.5L1226.0 433.0L1245.3 428.2Z" fill="url(#Bq38)"/><path d="M1172.8 178.5L1234.8 431.0L1254.0 425.5Z" fill="url(#Bq37)"/><path d="M1172.8 178.5L1243.6 428.7L1262.6 422.5Z" fill="url(#Bq36)"/><path d="M1172.8 178.5L1252.3 426.1L1271.0 419.2Z" fill="url(#Bq35)"/><path d="M1172.8 178.5L1260.9 423.1L1279.4 415.7Z" fill="url(#Bq34)"/><path d="M1172.8 178.5L1269.4 419.9L1287.6 411.8Z" fill="url(#Bq33)"/><path d="M1172.8 178.5L1277.7 416.4L1295.7 407.6Z" fill="url(#Bq32)"/><path d="M1172.8 178.5L1286.0 412.6L1303.6 403.2Z" fill="url(#Bq31)"/><path d="M1172.8 178.5L1294.1 408.5L1311.3 398.5Z" fill="url(#Bq30)"/><path d="M1172.8 178.5L1302.0 404.1L1318.9 393.5Z" fill="url(#Bq29)"/><path d="M1172.8 178.5L1309.8 399.5L1326.4 388.3Z" fill="url(#Bq28)"/><path d="M1172.8 178.5L1317.4 394.6L1333.6 382.8Z" fill="url(#Bq27)"/><path d="M1172.8 178.5L1324.9 389.4L1340.6 377.1Z" fill="url(#Bq26)"/><path d="M1172.8 178.5L1332.2 383.9L1347.4 371.1Z" fill="url(#Bq25)"/><path d="M1172.8 178.5L1339.2 378.3L1354.1 364.9Z" fill="url(#Bq24)"/><path d="M1172.8 178.5L1346.1 372.3L1360.5 358.5Z" fill="url(#Bq23)"/><path d="M1172.8 178.5L1352.8 366.2L1366.6 351.8Z" fill="url(#Bq22)"/><path d="M1172.8 178.5L1359.2 359.8L1372.6 344.9Z" fill="url(#Bq21)"/><path d="M1172.8 178.5L1365.4 353.1L1378.2 337.9Z" fill="url(#Bq20)"/><path d="M1172.8 178.5L1371.4 346.3L1383.7 330.6Z" fill="url(#Bq19)"/><path d="M1172.8 178.5L1377.1 339.3L1388.9 323.1Z" fill="url(#Bq18)"/><path d="M1172.8 178.5L1382.6 332.1L1393.8 315.5Z" fill="url(#Bq17)"/><path d="M1172.8 178.5L1387.8 324.6L1398.4 307.7Z" fill="url(#Bq16)"/><path d="M1172.8 178.5L1392.8 317.0L1402.8 299.8Z" fill="url(#Bq15)"/><path d="M1172.8 178.5L1397.5 309.3L1406.9 291.7Z" fill="url(#Bq14)"/><path d="M1172.8 178.5L1401.9 301.4L1410.7 283.4Z" fill="url(#Bq13)"/><path d="M1172.8 178.5L1406.1 293.3L1414.2 275.1Z" fill="url(#Bq12)"/><path d="M1172.8 178.5L1410.0 285.1L1417.4 266.6Z" fill="url(#Bq11)"/><path d="M1172.8 178.5L1413.5 276.7L1420.4 258.0Z" fill="url(#Bq10)"/><path d="M1172.8 178.5L1416.8 268.3L1423.0 249.3Z" fill="url(#Bq9)"/><path d="M1172.8 178.5L1419.8 259.7L1425.3 240.5Z" fill="url(#Bq8)"/><path d="M1172.8 178.5L1422.5 251.0L1427.3 231.7Z" fill="url(#Bq7)"/><path d="M1172.8 178.5L1424.9 242.3L1429.0 222.8Z" fill="url(#Bq6)"/><path d="M1172.8 178.5L1426.9 233.4L1430.4 213.8Z" fill="url(#Bq5)"/><path d="M1172.8 178.5L1428.7 224.5L1431.5 204.8Z" fill="url(#Bq4)"/><path d="M1172.8 178.5L1430.1 215.6L1432.2 195.7Z" fill="url(#Bq3)"/><path d="M1172.8 178.5L1431.3 206.6L1432.7 186.7Z" fill="url(#Bq2)"/><path d="M1172.8 178.5L1432.1 197.5L1432.8 177.6Z" fill="url(#Bq1)"/></g>
<g clip-path="url(#clipC)"><circle cx="1553.6" cy="174.5" r="200.0" fill="url(#Cq45)"/><path d="M1553.6 174.5L1813.4 184.5L1813.4 164.5Z" fill="url(#Cq0)"/><path d="M1553.6 174.5L1813.6 175.4L1812.9 155.5Z" fill="url(#Cq1)"/><path d="M1553.6 174.5L1813.5 166.3L1812.1 146.4Z" fill="url(#Cq2)"/><path d="M1553.6 174.5L1813.0 157.3L1810.9 137.4Z" fill="url(#Cq3)"/><path d="M1553.6 174.5L1812.3 148.2L1809.5 128.5Z" fill="url(#Cq4)"/><path d="M1553.6 174.5L1811.2 139.2L1807.7 119.6Z" fill="url(#Cq5)"/><path d="M1553.6 174.5L1809.8 130.2L1805.7 110.7Z" fill="url(#Cq6)"/><path d="M1553.6 174.5L1808.1 121.3L1803.3 102.0Z" fill="url(#Cq7)"/><path d="M1553.6 174.5L1806.1 112.5L1800.6 93.3Z" fill="url(#Cq8)"/><path d="M1553.6 174.5L1803.8 103.7L1797.6 84.7Z" fill="url(#Cq9)"/><path d="M1553.6 174.5L1801.2 95.0L1794.3 76.3Z" fill="url(#Cq10)"/><path d="M1553.6 174.5L1798.2 86.4L1790.8 67.9Z" fill="url(#Cq11)"/><path d="M1553.6 174.5L1795.0 77.9L1786.9 59.7Z" fill="url(#Cq12)"/><path d="M1553.6 174.5L1791.5 69.6L1782.7 51.6Z" fill="url(#Cq13)"/><path d="M1553.6 174.5L1787.7 61.3L1778.3 43.7Z" fill="url(#Cq14)"/><path d="M1553.6 174.5L1783.6 53.2L1773.6 36.0Z" fill="url(#Cq15)"/><path d="M1553.6 174.5L1779.2 45.3L1768.6 28.4Z" fill="url(#Cq16)"/><path d="M1553.6 174.5L1774.6 37.5L1763.4 20.9Z" fill="url(#Cq17)"/><path d="M1553.6 174.5L1769.7 29.9L1757.9 13.7Z" fill="url(#Cq18)"/><path d="M1553.6 174.5L1764.5 22.4L1752.2 6.7Z" fill="url(#Cq19)"/><path d="M1553.6 174.5L1759.0 15.1L1746.2 -0.1Z" fill="url(#Cq20)"/><path d="M1553.6 174.5L1753.4 8.1L1740.0 -6.8Z" fill="url(#Cq21)"/><path d="M1553.6 174.5L1747.4 1.2L1733.6 -13.2Z" fill="url(#Cq22)"/><path d="M1553.6 174.5L1741.3 -5.5L1726.9 -19.3Z" fill="url(#Cq23)"/><path d="M1553.6 174.5L1734.9 -11.9L1720.0 -25.3Z" fill="url(#Cq24)"/><path d="M1553.6 174.5L1728.2 -18.1L1713.0 -30.9Z" fill="url(#Cq25)"/><path d="M1553.6 174.5L1721.4 -24.1L1705.7 -36.4Z" fill="url(#Cq26)"/><path d="M1553.6 174.5L1714.4 -29.8L1698.2 -41.6Z" fill="url(#Cq27)"/><path d="M1553.6 174.5L1707.2 -35.3L1690.6 -46.5Z" fill="url(#Cq28)"/><path d="M1553.6 174.5L1699.7 -40.5L1682.8 -51.1Z" fill="url(#Cq29)"/><path d="M1553.6 174.5L1692.1 -45.5L1674.9 -55.5Z" fill="url(#Cq30)"/><path d="M1553.6 174.5L1684.4 -50.2L1666.8 -59.6Z" fill="url(#Cq31)"/><path d="M1553.6 174.5L1676.5 -54.6L1658.5 -63.4Z" fill="url(#Cq32)"/><path d="M1553.6 174.5L1668.4 -58.8L1650.2 -66.9Z" fill="url(#Cq33)"/><path d="M1553.6 174.5L1660.2 -62.7L1641.7 -70.1Z" fill="url(#Cq34)"/><path d="M1553.6 174.5L1651.8 -66.2L1633.1 -73.1Z" fill="url(#Cq35)"/><path d="M1553.6 174.5L1643.4 -69.5L1624.4 -75.7Z" fill="url(#Cq36)"/><path d="M1553.6 174.5L1634.8 -72.5L1615.6 -78.0Z" fill="url(#Cq37)"/><path d="M1553.6 174.5L1626.1 -75.2L1606.8 -80.0Z" fill="url(#Cq38)"/><path d="M1553.6 174.5L1617.4 -77.6L1597.9 -81.7Z" fill="url(#Cq39)"/><path d="M1553.6 174.5L1608.5 -79.6L1588.9 -83.1Z" fill="url(#Cq40)"/><path d="M1553.6 174.5L1599.6 -81.4L1579.9 -84.2Z" fill="url(#Cq41)"/><path d="M1553.6 174.5L1590.7 -82.8L1570.8 -84.9Z" fill="url(#Cq42)"/><path d="M1553.6 174.5L1581.7 -84.0L1561.8 -85.4Z" fill="url(#Cq43)"/><path d="M1553.6 174.5L1572.6 -84.8L1552.7 -85.5Z" fill="url(#Cq44)"/><path d="M1553.6 174.5L1563.6 -85.3L1543.6 -85.3Z" fill="url(#Cq45)"/><path d="M1553.6 174.5L1554.5 -85.5L1534.6 -84.8Z" fill="url(#Cq44)"/><path d="M1553.6 174.5L1545.4 -85.4L1525.5 -84.0Z" fill="url(#Cq43)"/><path d="M1553.6 174.5L1536.4 -84.9L1516.5 -82.8Z" fill="url(#Cq42)"/><path d="M1553.6 174.5L1527.3 -84.2L1507.6 -81.4Z" fill="url(#Cq41)"/><path d="M1553.6 174.5L1518.3 -83.1L1498.7 -79.6Z" fill="url(#Cq40)"/><path d="M1553.6 174.5L1509.3 -81.7L1489.8 -77.6Z" fill="url(#Cq39)"/><path d="M1553.6 174.5L1500.4 -80.0L1481.1 -75.2Z" fill="url(#Cq38)"/><path d="M1553.6 174.5L1491.6 -78.0L1472.4 -72.5Z" fill="url(#Cq37)"/><path d="M1553.6 174.5L1482.8 -75.7L1463.8 -69.5Z" fill="url(#Cq36)"/><path d="M1553.6 174.5L1474.1 -73.1L1455.4 -66.2Z" fill="url(#Cq35)"/><path d="M1553.6 174.5L1465.5 -70.1L1447.0 -62.7Z" fill="url(#Cq34)"/><path d="M1553.6 174.5L1457.0 -66.9L1438.8 -58.8Z" fill="url(#Cq33)"/><path d="M1553.6 174.5L1448.7 -63.4L1430.7 -54.6Z" fill="url(#Cq32)"/><path d="M1553.6 174.5L1440.4 -59.6L1422.8 -50.2Z" fill="url(#Cq31)"/><path d="M1553.6 174.5L1432.3 -55.5L1415.1 -45.5Z" fill="url(#Cq30)"/><path d="M1553.6 174.5L1424.4 -51.1L1407.5 -40.5Z" fill="url(#Cq29)"/><path d="M1553.6 174.5L1416.6 -46.5L1400.0 -35.3Z" fill="url(#Cq28)"/><path d="M1553.6 174.5L1409.0 -41.6L1392.8 -29.8Z" fill="url(#Cq27)"/><path d="M1553.6 174.5L1401.5 -36.4L1385.8 -24.1Z" fill="url(#Cq26)"/><path d="M1553.6 174.5L1394.2 -30.9L1379.0 -18.1Z" fill="url(#Cq25)"/><path d="M1553.6 174.5L1387.2 -25.3L1372.3 -11.9Z" fill="url(#Cq24)"/><path d="M1553.6 174.5L1380.3 -19.3L1365.9 -5.5Z" fill="url(#Cq23)"/><path d="M1553.6 174.5L1373.6 -13.2L1359.8 1.2Z" fill="url(#Cq22)"/><path d="M1553.6 174.5L1367.2 -6.8L1353.8 8.1Z" fill="url(#Cq21)"/><path d="M1553.6 174.5L1361.0 -0.1L1348.2 15.1Z" fill="url(#Cq20)"/><path d="M1553.6 174.5L1355.0 6.7L1342.7 22.4Z" fill="url(#Cq19)"/><path d="M1553.6 174.5L1349.3 13.7L1337.5 29.9Z" fill="url(#Cq18)"/><path d="M1553.6 174.5L1343.8 20.9L1332.6 37.5Z" fill="url(#Cq17)"/><path d="M1553.6 174.5L1338.6 28.4L1328.0 45.3Z" fill="url(#Cq16)"/><path d="M1553.6 174.5L1333.6 36.0L1323.6 53.2Z" fill="url(#Cq15)"/><path d="M1553.6 174.5L1328.9 43.7L1319.5 61.3Z" fill="url(#Cq14)"/><path d="M1553.6 174.5L1324.5 51.6L1315.7 69.6Z" fill="url(#Cq13)"/><path d="M1553.6 174.5L1320.3 59.7L1312.2 77.9Z" fill="url(#Cq12)"/><path d="M1553.6 174.5L1316.4 67.9L1309.0 86.4Z" fill="url(#Cq11)"/><path d="M1553.6 174.5L1312.9 76.3L1306.0 95.0Z" fill="url(#Cq10)"/><path d="M1553.6 174.5L1309.6 84.7L1303.4 103.7Z" fill="url(#Cq9)"/><path d="M1553.6 174.5L1306.6 93.3L1301.1 112.5Z" fill="url(#Cq8)"/><path d="M1553.6 174.5L1303.9 102.0L1299.1 121.3Z" fill="url(#Cq7)"/><path d="M1553.6 174.5L1301.5 110.7L1297.4 130.2Z" fill="url(#Cq6)"/><path d="M1553.6 174.5L1299.5 119.6L1296.0 139.2Z" fill="url(#Cq5)"/><path d="M1553.6 174.5L1297.7 128.5L1294.9 148.2Z" fill="url(#Cq4)"/><path d="M1553.6 174.5L1296.3 137.4L1294.2 157.3Z" fill="url(#Cq3)"/><path d="M1553.6 174.5L1295.1 146.4L1293.7 166.3Z" fill="url(#Cq2)"/><path d="M1553.6 174.5L1294.3 155.5L1293.6 175.4Z" fill="url(#Cq1)"/><path d="M1553.6 174.5L1293.8 164.5L1293.8 184.5Z" fill="url(#Cq0)"/><path d="M1553.6 174.5L1293.6 173.6L1294.3 193.5Z" fill="url(#Cq1)"/><path d="M1553.6 174.5L1293.7 182.7L1295.1 202.6Z" fill="url(#Cq2)"/><path d="M1553.6 174.5L1294.2 191.7L1296.3 211.6Z" fill="url(#Cq3)"/><path d="M1553.6 174.5L1294.9 200.8L1297.7 220.5Z" fill="url(#Cq4)"/><path d="M1553.6 174.5L1296.0 209.8L1299.5 229.4Z" fill="url(#Cq5)"/><path d="M1553.6 174.5L1297.4 218.8L1301.5 238.3Z" fill="url(#Cq6)"/><path d="M1553.6 174.5L1299.1 227.7L1303.9 247.0Z" fill="url(#Cq7)"/><path d="M1553.6 174.5L1301.1 236.5L1306.6 255.7Z" fill="url(#Cq8)"/><path d="M1553.6 174.5L1303.4 245.3L1309.6 264.3Z" fill="url(#Cq9)"/><path d="M1553.6 174.5L1306.0 254.0L1312.9 272.7Z" fill="url(#Cq10)"/><path d="M1553.6 174.5L1309.0 262.6L1316.4 281.1Z" fill="url(#Cq11)"/><path d="M1553.6 174.5L1312.2 271.1L1320.3 289.3Z" fill="url(#Cq12)"/><path d="M1553.6 174.5L1315.7 279.4L1324.5 297.4Z" fill="url(#Cq13)"/><path d="M1553.6 174.5L1319.5 287.7L1328.9 305.3Z" fill="url(#Cq14)"/><path d="M1553.6 174.5L1323.6 295.8L1333.6 313.0Z" fill="url(#Cq15)"/><path d="M1553.6 174.5L1328.0 303.7L1338.6 320.6Z" fill="url(#Cq16)"/><path d="M1553.6 174.5L1332.6 311.5L1343.8 328.1Z" fill="url(#Cq17)"/><path d="M1553.6 174.5L1337.5 319.1L1349.3 335.3Z" fill="url(#Cq18)"/><path d="M1553.6 174.5L1342.7 326.6L1355.0 342.3Z" fill="url(#Cq19)"/><path d="M1553.6 174.5L1348.2 333.9L1361.0 349.1Z" fill="url(#Cq20)"/><path d="M1553.6 174.5L1353.8 340.9L1367.2 355.8Z" fill="url(#Cq21)"/><path d="M1553.6 174.5L1359.8 347.8L1373.6 362.2Z" fill="url(#Cq22)"/><path d="M1553.6 174.5L1365.9 354.5L1380.3 368.3Z" fill="url(#Cq23)"/><path d="M1553.6 174.5L1372.3 360.9L1387.2 374.3Z" fill="url(#Cq24)"/><path d="M1553.6 174.5L1379.0 367.1L1394.2 379.9Z" fill="url(#Cq25)"/><path d="M1553.6 174.5L1385.8 373.1L1401.5 385.4Z" fill="url(#Cq26)"/><path d="M1553.6 174.5L1392.8 378.8L1409.0 390.6Z" fill="url(#Cq27)"/><path d="M1553.6 174.5L1400.0 384.3L1416.6 395.5Z" fill="url(#Cq28)"/><path d="M1553.6 174.5L1407.5 389.5L1424.4 400.1Z" fill="url(#Cq29)"/><path d="M1553.6 174.5L1415.1 394.5L1432.3 404.5Z" fill="url(#Cq30)"/><path d="M1553.6 174.5L1422.8 399.2L1440.4 408.6Z" fill="url(#Cq31)"/><path d="M1553.6 174.5L1430.7 403.6L1448.7 412.4Z" fill="url(#Cq32)"/><path d="M1553.6 174.5L1438.8 407.8L1457.0 415.9Z" fill="url(#Cq33)"/><path d="M1553.6 174.5L1447.0 411.7L1465.5 419.1Z" fill="url(#Cq34)"/><path d="M1553.6 174.5L1455.4 415.2L1474.1 422.1Z" fill="url(#Cq35)"/><path d="M1553.6 174.5L1463.8 418.5L1482.8 424.7Z" fill="url(#Cq36)"/><path d="M1553.6 174.5L1472.4 421.5L1491.6 427.0Z" fill="url(#Cq37)"/><path d="M1553.6 174.5L1481.1 424.2L1500.4 429.0Z" fill="url(#Cq38)"/><path d="M1553.6 174.5L1489.8 426.6L1509.3 430.7Z" fill="url(#Cq39)"/><path d="M1553.6 174.5L1498.7 428.6L1518.3 432.1Z" fill="url(#Cq40)"/><path d="M1553.6 174.5L1507.6 430.4L1527.3 433.2Z" fill="url(#Cq41)"/><path d="M1553.6 174.5L1516.5 431.8L1536.4 433.9Z" fill="url(#Cq42)"/><path d="M1553.6 174.5L1525.5 433.0L1545.4 434.4Z" fill="url(#Cq43)"/><path d="M1553.6 174.5L1534.6 433.8L1554.5 434.5Z" fill="url(#Cq44)"/><path d="M1553.6 174.5L1543.6 434.3L1563.6 434.3Z" fill="url(#Cq45)"/><path d="M1553.6 174.5L1552.7 434.5L1572.6 433.8Z" fill="url(#Cq44)"/><path d="M1553.6 174.5L1561.8 434.4L1581.7 433.0Z" fill="url(#Cq43)"/><path d="M1553.6 174.5L1570.8 433.9L1590.7 431.8Z" fill="url(#Cq42)"/><path d="M1553.6 174.5L1579.9 433.2L1599.6 430.4Z" fill="url(#Cq41)"/><path d="M1553.6 174.5L1588.9 432.1L1608.5 428.6Z" fill="url(#Cq40)"/><path d="M1553.6 174.5L1597.9 430.7L1617.4 426.6Z" fill="url(#Cq39)"/><path d="M1553.6 174.5L1606.8 429.0L1626.1 424.2Z" fill="url(#Cq38)"/><path d="M1553.6 174.5L1615.6 427.0L1634.8 421.5Z" fill="url(#Cq37)"/><path d="M1553.6 174.5L1624.4 424.7L1643.4 418.5Z" fill="url(#Cq36)"/><path d="M1553.6 174.5L1633.1 422.1L1651.8 415.2Z" fill="url(#Cq35)"/><path d="M1553.6 174.5L1641.7 419.1L1660.2 411.7Z" fill="url(#Cq34)"/><path d="M1553.6 174.5L1650.2 415.9L1668.4 407.8Z" fill="url(#Cq33)"/><path d="M1553.6 174.5L1658.5 412.4L1676.5 403.6Z" fill="url(#Cq32)"/><path d="M1553.6 174.5L1666.8 408.6L1684.4 399.2Z" fill="url(#Cq31)"/><path d="M1553.6 174.5L1674.9 404.5L1692.1 394.5Z" fill="url(#Cq30)"/><path d="M1553.6 174.5L1682.8 400.1L1699.7 389.5Z" fill="url(#Cq29)"/><path d="M1553.6 174.5L1690.6 395.5L1707.2 384.3Z" fill="url(#Cq28)"/><path d="M1553.6 174.5L1698.2 390.6L1714.4 378.8Z" fill="url(#Cq27)"/><path d="M1553.6 174.5L1705.7 385.4L1721.4 373.1Z" fill="url(#Cq26)"/><path d="M1553.6 174.5L1713.0 379.9L1728.2 367.1Z" fill="url(#Cq25)"/><path d="M1553.6 174.5L1720.0 374.3L1734.9 360.9Z" fill="url(#Cq24)"/><path d="M1553.6 174.5L1726.9 368.3L1741.3 354.5Z" fill="url(#Cq23)"/><path d="M1553.6 174.5L1733.6 362.2L1747.4 347.8Z" fill="url(#Cq22)"/><path d="M1553.6 174.5L1740.0 355.8L1753.4 340.9Z" fill="url(#Cq21)"/><path d="M1553.6 174.5L1746.2 349.1L1759.0 333.9Z" fill="url(#Cq20)"/><path d="M1553.6 174.5L1752.2 342.3L1764.5 326.6Z" fill="url(#Cq19)"/><path d="M1553.6 174.5L1757.9 335.3L1769.7 319.1Z" fill="url(#Cq18)"/><path d="M1553.6 174.5L1763.4 328.1L1774.6 311.5Z" fill="url(#Cq17)"/><path d="M1553.6 174.5L1768.6 320.6L1779.2 303.7Z" fill="url(#Cq16)"/><path d="M1553.6 174.5L1773.6 313.0L1783.6 295.8Z" fill="url(#Cq15)"/><path d="M1553.6 174.5L1778.3 305.3L1787.7 287.7Z" fill="url(#Cq14)"/><path d="M1553.6 174.5L1782.7 297.4L1791.5 279.4Z" fill="url(#Cq13)"/><path d="M1553.6 174.5L1786.9 289.3L1795.0 271.1Z" fill="url(#Cq12)"/><path d="M1553.6 174.5L1790.8 281.1L1798.2 262.6Z" fill="url(#Cq11)"/><path d="M1553.6 174.5L1794.3 272.7L1801.2 254.0Z" fill="url(#Cq10)"/><path d="M1553.6 174.5L1797.6 264.3L1803.8 245.3Z" fill="url(#Cq9)"/><path d="M1553.6 174.5L1800.6 255.7L1806.1 236.5Z" fill="url(#Cq8)"/><path d="M1553.6 174.5L1803.3 247.0L1808.1 227.7Z" fill="url(#Cq7)"/><path d="M1553.6 174.5L1805.7 238.3L1809.8 218.8Z" fill="url(#Cq6)"/><path d="M1553.6 174.5L1807.7 229.4L1811.2 209.8Z" fill="url(#Cq5)"/><path d="M1553.6 174.5L1809.5 220.5L1812.3 200.8Z" fill="url(#Cq4)"/><path d="M1553.6 174.5L1810.9 211.6L1813.0 191.7Z" fill="url(#Cq3)"/><path d="M1553.6 174.5L1812.1 202.6L1813.5 182.7Z" fill="url(#Cq2)"/><path d="M1553.6 174.5L1812.9 193.5L1813.6 173.6Z" fill="url(#Cq1)"/></g>
<rect x="1782.2" y="161.5" width="302.2" height="7" fill="#3a0000" filter="url(#dblur)"/>
<rect x="1781.7" y="163.4" width="303.2" height="3.2" fill="url(#dl)"/>
<text x="1025.2" y="61.8" class="bw">b</text>
<text x="1311.5" y="62" text-anchor="end" class="tw"><tspan style="font-size:36px;stroke:#fff;stroke-width:0.5px">&#916;</tspan><tspan style="font-size:36px">C</tspan><tspan style="font-size:31.5px">=0.2</tspan></text>
<text x="1410.0" y="61.8" class="bw">c</text>
<text x="1698.1" y="62" text-anchor="end" class="tw"><tspan style="font-size:36px;stroke:#fff;stroke-width:0.5px">&#916;</tspan><tspan style="font-size:36px">C</tspan><tspan style="font-size:31.5px">=0.5</tspan></text>
<text x="1790.1" y="61.8" class="bw">d</text>
<text x="2073.3" y="62" text-anchor="end" class="tw"><tspan style="font-size:36px;stroke:#fff;stroke-width:0.5px">&#916;</tspan><tspan style="font-size:36px">C</tspan><tspan style="font-size:31.5px">=1.0</tspan></text>
<text transform="translate(1049,253.1) rotate(-90) scale(1.039,1)" class="tw">Imaginary</text>
<text transform="translate(1091,317.5) scale(1.033,1)" class="tw">Real</text>
<path d="M1036.8 306.8V272 M1036.8 306.8H1072" stroke="#fff" stroke-width="2" fill="none"/>
<path d="M1036.8 262.5L1041.8 277L1036.8 274L1031.8 277Z" fill="#fff"/>
<path d="M1082.5 306.8L1068 311.8L1071 306.8L1068 301.8Z" fill="#fff"/>
<path d="M1020.2 571.0V590.0M1058.2 571.0V580.5M1096.2 571.0V580.5M1134.2 571.0V580.5M1172.2 571.0V590.0M1210.3 571.0V580.5M1248.3 571.0V580.5M1286.3 571.0V580.5M1324.3 571.0V590.0" stroke="#000" stroke-width="2" fill="none"/>
<rect x="1020.2" y="342.2" width="304.1" height="228.8" fill="none" stroke="#000" stroke-width="2.2"/>
<text x="998.9000000000001" y="631.5" class="t">-</text>
<text transform="translate(1010.6,629.2) scale(0.86,1)" class="pi">&#960;</text>
<text x="1173.25" y="629.7" text-anchor="middle" class="t">0</text>
<text transform="translate(1316.9,629.2) scale(0.86,1)" class="pi">&#960;</text>
<text x="1174.25" y="668.9" text-anchor="middle" class="t">Phase</text>
<path d="M1400.0 571.0V590.0M1438.2 571.0V580.5M1476.4 571.0V580.5M1514.6 571.0V580.5M1552.8 571.0V590.0M1590.9 571.0V580.5M1629.1 571.0V580.5M1667.3 571.0V580.5M1705.5 571.0V590.0" stroke="#000" stroke-width="2" fill="none"/>
<rect x="1400.0" y="342.2" width="305.5" height="228.8" fill="none" stroke="#000" stroke-width="2.2"/>
<text x="1378.7" y="631.5" class="t">-</text>
<text transform="translate(1390.4,629.2) scale(0.86,1)" class="pi">&#960;</text>
<text x="1553.75" y="629.7" text-anchor="middle" class="t">0</text>
<text transform="translate(1698.1,629.2) scale(0.86,1)" class="pi">&#960;</text>
<text x="1554.75" y="668.9" text-anchor="middle" class="t">Phase</text>
<path d="M1780.4 571.0V590.0M1818.5 571.0V580.5M1856.7 571.0V580.5M1894.8 571.0V580.5M1932.9 571.0V590.0M1971.0 571.0V580.5M2009.2 571.0V580.5M2047.3 571.0V580.5M2085.4 571.0V590.0" stroke="#000" stroke-width="2" fill="none"/>
<rect x="1780.4" y="342.2" width="305.0" height="228.8" fill="none" stroke="#000" stroke-width="2.2"/>
<text x="1759.1000000000001" y="631.5" class="t">-</text>
<text transform="translate(1770.8,629.2) scale(0.86,1)" class="pi">&#960;</text>
<text x="1933.9" y="629.7" text-anchor="middle" class="t">0</text>
<text transform="translate(2078.0,629.2) scale(0.86,1)" class="pi">&#960;</text>
<text x="1934.9" y="668.9" text-anchor="middle" class="t">Phase</text>
<text transform="translate(997.5,570.5) rotate(-90) scale(1.035,1)" class="t" style="font-size:33px">Probability dist.</text>
<polyline points="1020.2,404.9 1021.5,405.2 1022.7,405.6 1024.0,405.9 1025.3,406.3 1026.5,406.6 1027.8,406.9 1029.1,407.2 1030.3,407.5 1031.6,407.8 1032.9,408.1 1034.1,408.4 1035.4,408.6 1036.7,408.9 1037.9,409.1 1039.2,409.4 1040.5,409.6 1041.7,409.9 1043.0,410.1 1044.3,410.3 1045.5,410.6 1046.8,410.8 1048.1,411.0 1049.3,411.2 1050.6,411.4 1051.9,411.6 1053.1,411.7 1054.4,411.9 1055.7,412.1 1056.9,412.3 1058.2,412.4 1059.5,412.6 1060.7,412.7 1062.0,412.8 1063.3,413.0 1064.5,413.1 1065.8,413.2 1067.1,413.3 1068.3,413.4 1069.6,413.5 1070.9,413.6 1072.2,413.7 1073.4,413.8 1074.7,413.9 1076.0,414.0 1077.2,414.0 1078.5,414.1 1079.8,414.2 1081.0,414.2 1082.3,414.3 1083.6,414.3 1084.8,414.4 1086.1,414.4 1087.4,414.4 1088.6,414.4 1089.9,414.5 1091.2,414.5 1092.4,414.5 1093.7,414.5 1095.0,414.5 1096.2,414.5 1097.5,414.5 1098.8,414.5 1100.0,414.5 1101.3,414.5 1102.6,414.5 1103.8,414.4 1105.1,414.4 1106.4,414.4 1107.6,414.4 1108.9,414.3 1110.2,414.3 1111.4,414.2 1112.7,414.2 1114.0,414.1 1115.2,414.0 1116.5,414.0 1117.8,413.9 1119.0,413.8 1120.3,413.7 1121.6,413.6 1122.8,413.5 1124.1,413.4 1125.4,413.3 1126.6,413.2 1127.9,413.1 1129.2,413.0 1130.4,412.8 1131.7,412.7 1133.0,412.6 1134.2,412.4 1135.5,412.3 1136.8,412.1 1138.0,411.9 1139.3,411.7 1140.6,411.6 1141.8,411.4 1143.1,411.2 1144.4,411.0 1145.6,410.8 1146.9,410.6 1148.2,410.3 1149.4,410.1 1150.7,409.9 1152.0,409.6 1153.2,409.4 1154.5,409.1 1155.8,408.9 1157.0,408.6 1158.3,408.4 1159.6,408.1 1160.8,407.8 1162.1,407.5 1163.4,407.2 1164.6,406.9 1165.9,406.6 1167.2,406.3 1168.4,405.9 1169.7,405.6 1171.0,405.2 1172.2,404.9 1173.5,405.2 1174.8,405.6 1176.1,405.9 1177.3,406.3 1178.6,406.6 1179.9,406.9 1181.1,407.2 1182.4,407.5 1183.7,407.8 1184.9,408.1 1186.2,408.4 1187.5,408.6 1188.7,408.9 1190.0,409.1 1191.3,409.4 1192.5,409.6 1193.8,409.9 1195.1,410.1 1196.3,410.3 1197.6,410.6 1198.9,410.8 1200.1,411.0 1201.4,411.2 1202.7,411.4 1203.9,411.6 1205.2,411.7 1206.5,411.9 1207.7,412.1 1209.0,412.3 1210.3,412.4 1211.5,412.6 1212.8,412.7 1214.1,412.8 1215.3,413.0 1216.6,413.1 1217.9,413.2 1219.1,413.3 1220.4,413.4 1221.7,413.5 1222.9,413.6 1224.2,413.7 1225.5,413.8 1226.7,413.9 1228.0,414.0 1229.3,414.0 1230.5,414.1 1231.8,414.2 1233.1,414.2 1234.3,414.3 1235.6,414.3 1236.9,414.4 1238.1,414.4 1239.4,414.4 1240.7,414.4 1241.9,414.5 1243.2,414.5 1244.5,414.5 1245.7,414.5 1247.0,414.5 1248.3,414.5 1249.5,414.5 1250.8,414.5 1252.1,414.5 1253.3,414.5 1254.6,414.5 1255.9,414.4 1257.1,414.4 1258.4,414.4 1259.7,414.4 1260.9,414.3 1262.2,414.3 1263.5,414.2 1264.7,414.2 1266.0,414.1 1267.3,414.0 1268.5,414.0 1269.8,413.9 1271.1,413.8 1272.3,413.7 1273.6,413.6 1274.9,413.5 1276.2,413.4 1277.4,413.3 1278.7,413.2 1280.0,413.1 1281.2,413.0 1282.5,412.8 1283.8,412.7 1285.0,412.6 1286.3,412.4 1287.6,412.3 1288.8,412.1 1290.1,411.9 1291.4,411.7 1292.6,411.6 1293.9,411.4 1295.2,411.2 1296.4,411.0 1297.7,410.8 1299.0,410.6 1300.2,410.3 1301.5,410.1 1302.8,409.9 1304.0,409.6 1305.3,409.4 1306.6,409.1 1307.8,408.9 1309.1,408.6 1310.4,408.4 1311.6,408.1 1312.9,407.8 1314.2,407.5 1315.4,407.2 1316.7,406.9 1318.0,406.6 1319.2,406.3 1320.5,405.9 1321.8,405.6 1323.0,405.2 1324.3,404.9" fill="none" stroke="#0a00e6" stroke-width="4.8" stroke-linejoin="round"/>
<polyline points="1400.0,402.8 1401.3,407.4 1402.5,411.9 1403.8,416.3 1405.1,420.6 1406.4,424.8 1407.6,429.0 1408.9,433.0 1410.2,437.0 1411.5,440.8 1412.7,444.6 1414.0,448.3 1415.3,451.9 1416.5,455.4 1417.8,458.8 1419.1,462.1 1420.4,465.4 1421.6,468.5 1422.9,471.6 1424.2,474.6 1425.5,477.5 1426.7,480.3 1428.0,483.0 1429.3,485.6 1430.5,488.2 1431.8,490.7 1433.1,493.0 1434.4,495.3 1435.6,497.6 1436.9,499.7 1438.2,501.8 1439.5,503.7 1440.7,505.6 1442.0,507.5 1443.3,509.2 1444.6,510.9 1445.8,512.4 1447.1,514.0 1448.4,515.4 1449.6,516.7 1450.9,518.0 1452.2,519.2 1453.5,520.4 1454.7,521.4 1456.0,522.4 1457.3,523.3 1458.6,524.2 1459.8,524.9 1461.1,525.6 1462.4,526.3 1463.6,526.8 1464.9,527.4 1466.2,527.8 1467.5,528.2 1468.7,528.5 1470.0,528.8 1471.3,529.0 1472.6,529.1 1473.8,529.2 1475.1,529.3 1476.4,529.3 1477.6,529.3 1478.9,529.2 1480.2,529.1 1481.5,529.0 1482.7,528.8 1484.0,528.5 1485.3,528.2 1486.6,527.8 1487.8,527.4 1489.1,526.8 1490.4,526.3 1491.7,525.6 1492.9,524.9 1494.2,524.2 1495.5,523.3 1496.7,522.4 1498.0,521.4 1499.3,520.4 1500.6,519.2 1501.8,518.0 1503.1,516.7 1504.4,515.4 1505.7,514.0 1506.9,512.4 1508.2,510.9 1509.5,509.2 1510.7,507.5 1512.0,505.6 1513.3,503.7 1514.6,501.8 1515.8,499.7 1517.1,497.6 1518.4,495.3 1519.7,493.0 1520.9,490.7 1522.2,488.2 1523.5,485.6 1524.7,483.0 1526.0,480.3 1527.3,477.5 1528.6,474.6 1529.8,471.6 1531.1,468.5 1532.4,465.4 1533.7,462.1 1534.9,458.8 1536.2,455.4 1537.5,451.9 1538.7,448.3 1540.0,444.6 1541.3,440.8 1542.6,437.0 1543.8,433.0 1545.1,429.0 1546.4,424.8 1547.7,420.6 1548.9,416.3 1550.2,411.9 1551.5,407.4 1552.8,402.8 1554.0,407.4 1555.3,411.9 1556.6,416.3 1557.8,420.6 1559.1,424.8 1560.4,429.0 1561.7,433.0 1562.9,437.0 1564.2,440.8 1565.5,444.6 1566.8,448.3 1568.0,451.9 1569.3,455.4 1570.6,458.8 1571.8,462.1 1573.1,465.4 1574.4,468.5 1575.7,471.6 1576.9,474.6 1578.2,477.5 1579.5,480.3 1580.8,483.0 1582.0,485.6 1583.3,488.2 1584.6,490.7 1585.8,493.0 1587.1,495.3 1588.4,497.6 1589.7,499.7 1590.9,501.8 1592.2,503.7 1593.5,505.6 1594.8,507.5 1596.0,509.2 1597.3,510.9 1598.6,512.4 1599.8,514.0 1601.1,515.4 1602.4,516.7 1603.7,518.0 1604.9,519.2 1606.2,520.4 1607.5,521.4 1608.8,522.4 1610.0,523.3 1611.3,524.2 1612.6,524.9 1613.8,525.6 1615.1,526.3 1616.4,526.8 1617.7,527.4 1618.9,527.8 1620.2,528.2 1621.5,528.5 1622.8,528.8 1624.0,529.0 1625.3,529.1 1626.6,529.2 1627.9,529.3 1629.1,529.3 1630.4,529.3 1631.7,529.2 1632.9,529.1 1634.2,529.0 1635.5,528.8 1636.8,528.5 1638.0,528.2 1639.3,527.8 1640.6,527.4 1641.9,526.8 1643.1,526.3 1644.4,525.6 1645.7,524.9 1646.9,524.2 1648.2,523.3 1649.5,522.4 1650.8,521.4 1652.0,520.4 1653.3,519.2 1654.6,518.0 1655.9,516.7 1657.1,515.4 1658.4,514.0 1659.7,512.4 1660.9,510.9 1662.2,509.2 1663.5,507.5 1664.8,505.6 1666.0,503.7 1667.3,501.8 1668.6,499.7 1669.9,497.6 1671.1,495.3 1672.4,493.0 1673.7,490.7 1675.0,488.2 1676.2,485.6 1677.5,483.0 1678.8,480.3 1680.0,477.5 1681.3,474.6 1682.6,471.6 1683.9,468.5 1685.1,465.4 1686.4,462.1 1687.7,458.8 1689.0,455.4 1690.2,451.9 1691.5,448.3 1692.8,444.6 1694.0,440.8 1695.3,437.0 1696.6,433.0 1697.9,429.0 1699.1,424.8 1700.4,420.6 1701.7,416.3 1703.0,411.9 1704.2,407.4 1705.5,402.8" fill="none" stroke="#0a00e6" stroke-width="4.8" stroke-linejoin="round"/>
<path d="M1781.4 569.8H1928.8999999999999L1931.3 426.6H1932.8999999999999L1935.3 569.8H2081.4L2083.2000000000003 428.8H2084.9" fill="none" stroke="#0a00e6" stroke-width="4.6" stroke-linejoin="round"/>
<path d="M1928.6999999999998 569.8L1931.3 427H1932.8999999999999L1935.5 569.8Z M2080.9 569.8L2083.2000000000003 429H2085.4V569.8Z" fill="#0a00e6"/>
</svg>
</body></html>
